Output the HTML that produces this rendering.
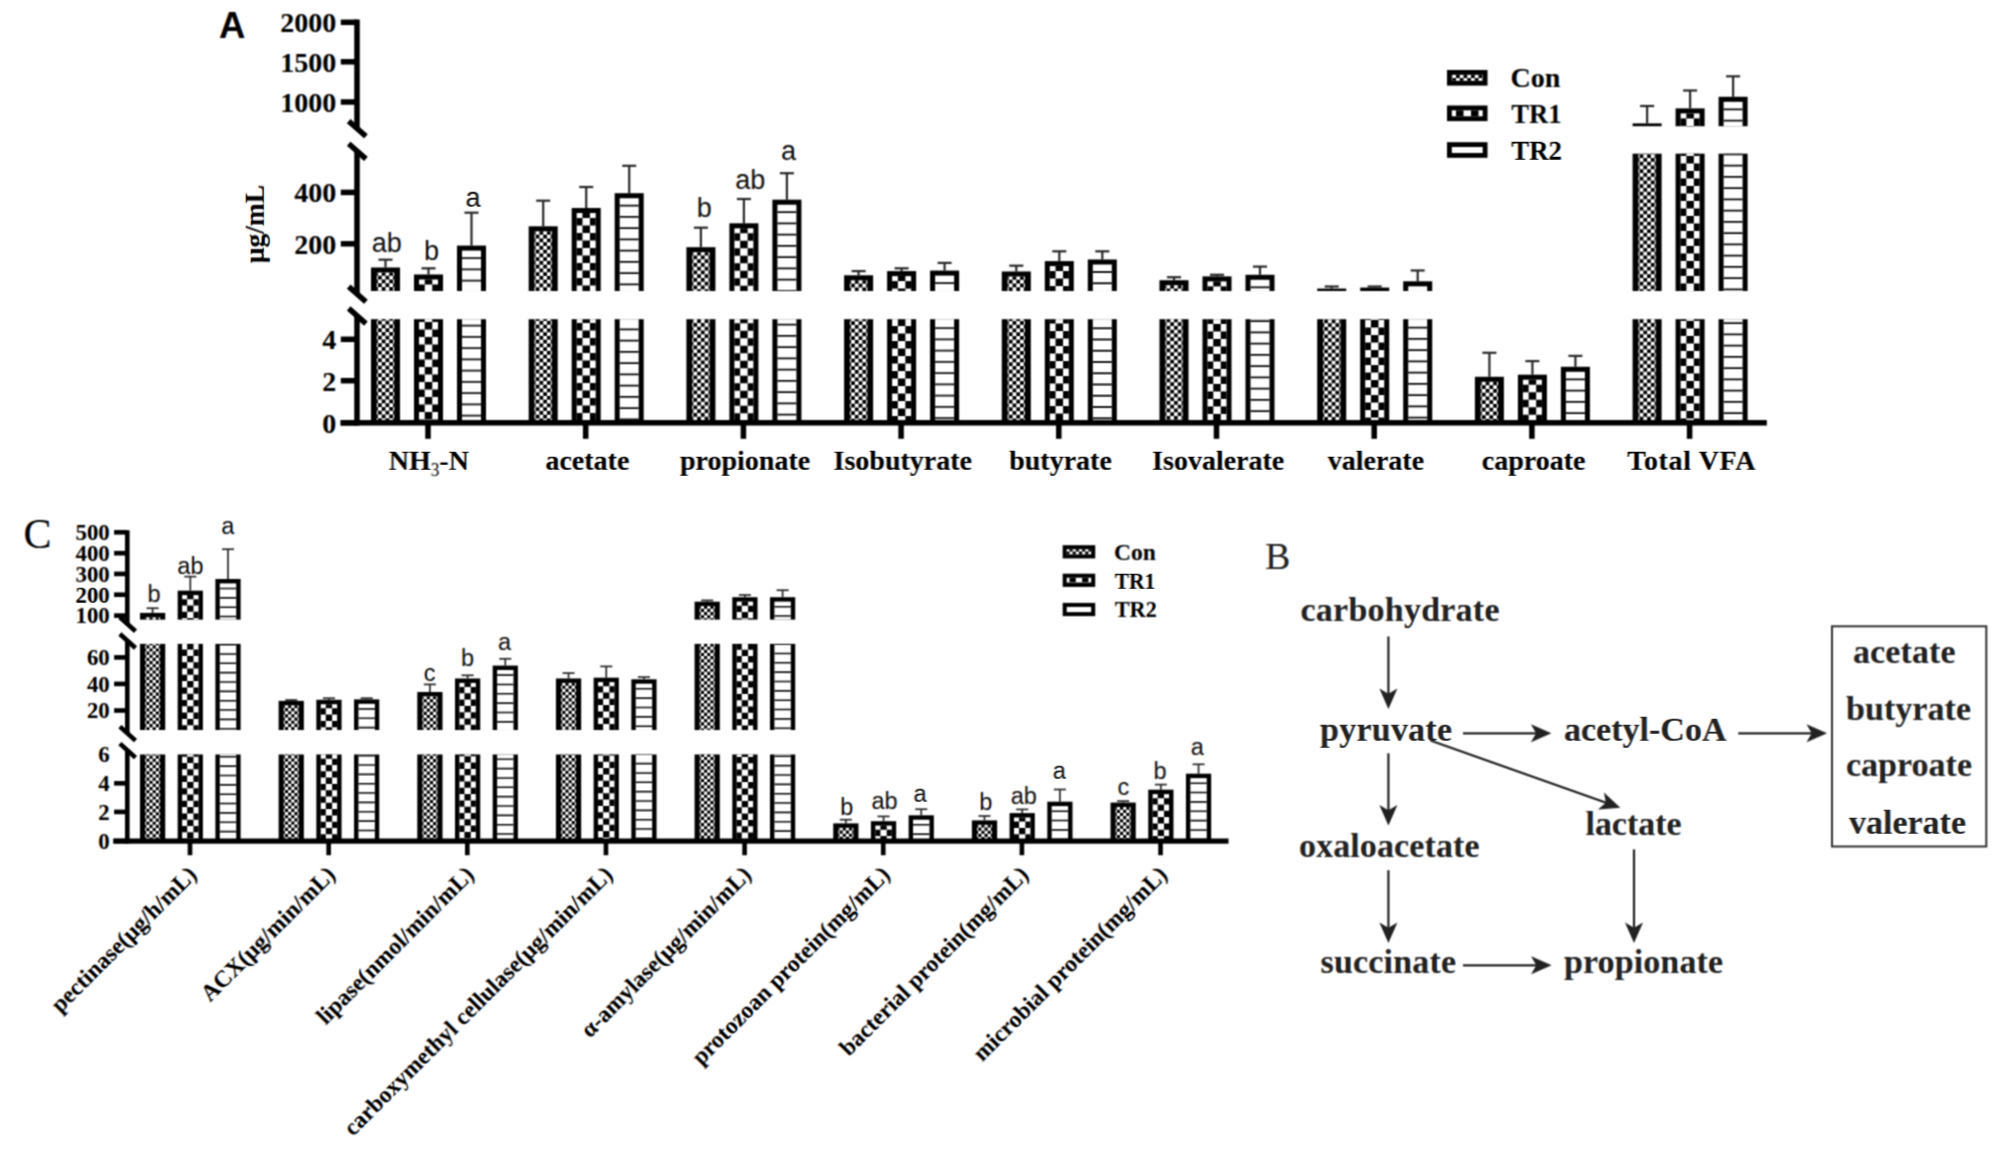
<!DOCTYPE html>
<html lang="en"><head><meta charset="utf-8"><title>Figure</title>
<style>html,body{margin:0;padding:0;background:#fff}svg{display:block}</style></head><body>
<svg width="2008" height="1151" viewBox="0 0 2008 1151">
<g id="hb"><g id="all">
<rect x="-5" y="-5" width="2018" height="1161" fill="#fff"/>
<g id="panelA">
<text x="219" y="38.3" font-family='"Liberation Serif", "DejaVu Serif", serif' font-size="36.5" font-weight="bold" text-anchor="start" fill="#000" style="font-family:'Liberation Sans', 'DejaVu Sans', sans-serif">A</text>
<rect x="371" y="267.5" width="29" height="23.5" fill="#000"/>
<rect x="376.8" y="272.5" width="17.4" height="18.5" fill="#fff"/>
<line x1="377.4" y1="272.5" x2="377.4" y2="291" stroke="#000" stroke-width="1.2" stroke-dasharray="3.75 3.75" stroke-dashoffset="0.4"/>
<line x1="379.88" y1="272.5" x2="379.88" y2="291" stroke="#000" stroke-width="3.75" stroke-dasharray="3.75 3.75" stroke-dashoffset="4.15"/>
<line x1="383.62" y1="272.5" x2="383.62" y2="291" stroke="#000" stroke-width="3.75" stroke-dasharray="3.75 3.75" stroke-dashoffset="0.4"/>
<line x1="387.38" y1="272.5" x2="387.38" y2="291" stroke="#000" stroke-width="3.75" stroke-dasharray="3.75 3.75" stroke-dashoffset="4.15"/>
<line x1="391.12" y1="272.5" x2="391.12" y2="291" stroke="#000" stroke-width="3.75" stroke-dasharray="3.75 3.75" stroke-dashoffset="0.4"/>
<line x1="393.6" y1="272.5" x2="393.6" y2="291" stroke="#000" stroke-width="1.2" stroke-dasharray="3.75 3.75" stroke-dashoffset="4.15"/>
<rect x="371" y="319.2" width="29" height="101.8" fill="#000"/>
<rect x="376.8" y="319.2" width="17.4" height="101.8" fill="#fff"/>
<line x1="377.4" y1="319.2" x2="377.4" y2="421" stroke="#000" stroke-width="1.2" stroke-dasharray="3.75 3.75" stroke-dashoffset="2.1"/>
<line x1="379.88" y1="319.2" x2="379.88" y2="421" stroke="#000" stroke-width="3.75" stroke-dasharray="3.75 3.75" stroke-dashoffset="5.85"/>
<line x1="383.62" y1="319.2" x2="383.62" y2="421" stroke="#000" stroke-width="3.75" stroke-dasharray="3.75 3.75" stroke-dashoffset="2.1"/>
<line x1="387.38" y1="319.2" x2="387.38" y2="421" stroke="#000" stroke-width="3.75" stroke-dasharray="3.75 3.75" stroke-dashoffset="5.85"/>
<line x1="391.12" y1="319.2" x2="391.12" y2="421" stroke="#000" stroke-width="3.75" stroke-dasharray="3.75 3.75" stroke-dashoffset="2.1"/>
<line x1="393.6" y1="319.2" x2="393.6" y2="421" stroke="#000" stroke-width="1.2" stroke-dasharray="3.75 3.75" stroke-dashoffset="5.85"/>
<rect x="378.5" y="258.6" width="14" height="2.2" fill="#2b2b2b"/>
<rect x="384.4" y="259.7" width="2.2" height="7.8" fill="#2b2b2b"/>
<rect x="414" y="274.5" width="29" height="16.5" fill="#000"/>
<rect x="419" y="279.5" width="19" height="11.5" fill="#fff"/>
<line x1="421.88" y1="279.5" x2="421.88" y2="291" stroke="#000" stroke-width="5.75" stroke-dasharray="7.5 7.5" stroke-dashoffset="10"/>
<line x1="428.5" y1="279.5" x2="428.5" y2="291" stroke="#000" stroke-width="7.5" stroke-dasharray="7.5 7.5" stroke-dashoffset="2.5"/>
<line x1="435.12" y1="279.5" x2="435.12" y2="291" stroke="#000" stroke-width="5.75" stroke-dasharray="7.5 7.5" stroke-dashoffset="10"/>
<rect x="414" y="319.2" width="29" height="101.8" fill="#000"/>
<rect x="419" y="319.2" width="19" height="101.8" fill="#fff"/>
<line x1="421.88" y1="319.2" x2="421.88" y2="421" stroke="#000" stroke-width="5.75" stroke-dasharray="7.5 7.5" stroke-dashoffset="4.7"/>
<line x1="428.5" y1="319.2" x2="428.5" y2="421" stroke="#000" stroke-width="7.5" stroke-dasharray="7.5 7.5" stroke-dashoffset="12.2"/>
<line x1="435.12" y1="319.2" x2="435.12" y2="421" stroke="#000" stroke-width="5.75" stroke-dasharray="7.5 7.5" stroke-dashoffset="4.7"/>
<rect x="421.5" y="267.2" width="14" height="2.2" fill="#2b2b2b"/>
<rect x="427.4" y="268.3" width="2.2" height="6.2" fill="#2b2b2b"/>
<rect x="457" y="245.6" width="29" height="45.4" fill="#000"/>
<rect x="462" y="250.6" width="19" height="40.4" fill="#fff"/>
<line x1="471.5" y1="250.6" x2="471.5" y2="291" stroke="#111" stroke-width="19" stroke-dasharray="1.8 9.45" stroke-dashoffset="4.65"/>
<rect x="457" y="319.2" width="29" height="101.8" fill="#000"/>
<rect x="462" y="319.2" width="19" height="101.8" fill="#fff"/>
<line x1="471.5" y1="319.2" x2="471.5" y2="421" stroke="#111" stroke-width="19" stroke-dasharray="1.8 9.45" stroke-dashoffset="5.75"/>
<rect x="464.5" y="211.6" width="14" height="2.2" fill="#2b2b2b"/>
<rect x="470.4" y="212.7" width="2.2" height="32.9" fill="#2b2b2b"/>
<rect x="528.7" y="226.3" width="29" height="64.7" fill="#000"/>
<rect x="534.5" y="231.3" width="17.4" height="59.7" fill="#fff"/>
<line x1="535.1" y1="231.3" x2="535.1" y2="291" stroke="#000" stroke-width="1.2" stroke-dasharray="3.75 3.75" stroke-dashoffset="0.4"/>
<line x1="537.58" y1="231.3" x2="537.58" y2="291" stroke="#000" stroke-width="3.75" stroke-dasharray="3.75 3.75" stroke-dashoffset="4.15"/>
<line x1="541.33" y1="231.3" x2="541.33" y2="291" stroke="#000" stroke-width="3.75" stroke-dasharray="3.75 3.75" stroke-dashoffset="0.4"/>
<line x1="545.08" y1="231.3" x2="545.08" y2="291" stroke="#000" stroke-width="3.75" stroke-dasharray="3.75 3.75" stroke-dashoffset="4.15"/>
<line x1="548.83" y1="231.3" x2="548.83" y2="291" stroke="#000" stroke-width="3.75" stroke-dasharray="3.75 3.75" stroke-dashoffset="0.4"/>
<line x1="551.3" y1="231.3" x2="551.3" y2="291" stroke="#000" stroke-width="1.2" stroke-dasharray="3.75 3.75" stroke-dashoffset="4.15"/>
<rect x="528.7" y="319.2" width="29" height="101.8" fill="#000"/>
<rect x="534.5" y="319.2" width="17.4" height="101.8" fill="#fff"/>
<line x1="535.1" y1="319.2" x2="535.1" y2="421" stroke="#000" stroke-width="1.2" stroke-dasharray="3.75 3.75" stroke-dashoffset="5.8"/>
<line x1="537.58" y1="319.2" x2="537.58" y2="421" stroke="#000" stroke-width="3.75" stroke-dasharray="3.75 3.75" stroke-dashoffset="2.05"/>
<line x1="541.33" y1="319.2" x2="541.33" y2="421" stroke="#000" stroke-width="3.75" stroke-dasharray="3.75 3.75" stroke-dashoffset="5.8"/>
<line x1="545.08" y1="319.2" x2="545.08" y2="421" stroke="#000" stroke-width="3.75" stroke-dasharray="3.75 3.75" stroke-dashoffset="2.05"/>
<line x1="548.83" y1="319.2" x2="548.83" y2="421" stroke="#000" stroke-width="3.75" stroke-dasharray="3.75 3.75" stroke-dashoffset="5.8"/>
<line x1="551.3" y1="319.2" x2="551.3" y2="421" stroke="#000" stroke-width="1.2" stroke-dasharray="3.75 3.75" stroke-dashoffset="2.05"/>
<rect x="536.2" y="199.6" width="14" height="2.2" fill="#2b2b2b"/>
<rect x="542.1" y="200.7" width="2.2" height="25.6" fill="#2b2b2b"/>
<rect x="571.7" y="208" width="29" height="83" fill="#000"/>
<rect x="576.7" y="213" width="19" height="78" fill="#fff"/>
<line x1="579.58" y1="213" x2="579.58" y2="291" stroke="#000" stroke-width="5.75" stroke-dasharray="7.5 7.5" stroke-dashoffset="10"/>
<line x1="586.2" y1="213" x2="586.2" y2="291" stroke="#000" stroke-width="7.5" stroke-dasharray="7.5 7.5" stroke-dashoffset="2.5"/>
<line x1="592.83" y1="213" x2="592.83" y2="291" stroke="#000" stroke-width="5.75" stroke-dasharray="7.5 7.5" stroke-dashoffset="10"/>
<rect x="571.7" y="319.2" width="29" height="101.8" fill="#000"/>
<rect x="576.7" y="319.2" width="19" height="101.8" fill="#fff"/>
<line x1="579.58" y1="319.2" x2="579.58" y2="421" stroke="#000" stroke-width="5.75" stroke-dasharray="7.5 7.5" stroke-dashoffset="11.2"/>
<line x1="586.2" y1="319.2" x2="586.2" y2="421" stroke="#000" stroke-width="7.5" stroke-dasharray="7.5 7.5" stroke-dashoffset="3.7"/>
<line x1="592.83" y1="319.2" x2="592.83" y2="421" stroke="#000" stroke-width="5.75" stroke-dasharray="7.5 7.5" stroke-dashoffset="11.2"/>
<rect x="579.2" y="185.9" width="14" height="2.2" fill="#2b2b2b"/>
<rect x="585.1" y="187" width="2.2" height="21" fill="#2b2b2b"/>
<rect x="614.7" y="193.2" width="29" height="97.8" fill="#000"/>
<rect x="619.7" y="198.2" width="19" height="92.8" fill="#fff"/>
<line x1="629.2" y1="198.2" x2="629.2" y2="291" stroke="#111" stroke-width="19" stroke-dasharray="1.8 9.45" stroke-dashoffset="4.65"/>
<rect x="614.7" y="319.2" width="29" height="101.8" fill="#000"/>
<rect x="619.7" y="319.2" width="19" height="101.8" fill="#fff"/>
<line x1="629.2" y1="319.2" x2="629.2" y2="421" stroke="#111" stroke-width="19" stroke-dasharray="1.8 9.45" stroke-dashoffset="1.9"/>
<rect x="622.2" y="164.7" width="14" height="2.2" fill="#2b2b2b"/>
<rect x="628.1" y="165.8" width="2.2" height="27.4" fill="#2b2b2b"/>
<rect x="686.4" y="247.2" width="29" height="43.8" fill="#000"/>
<rect x="692.2" y="252.2" width="17.4" height="38.8" fill="#fff"/>
<line x1="692.8" y1="252.2" x2="692.8" y2="291" stroke="#000" stroke-width="1.2" stroke-dasharray="3.75 3.75" stroke-dashoffset="0.4"/>
<line x1="695.27" y1="252.2" x2="695.27" y2="291" stroke="#000" stroke-width="3.75" stroke-dasharray="3.75 3.75" stroke-dashoffset="4.15"/>
<line x1="699.02" y1="252.2" x2="699.02" y2="291" stroke="#000" stroke-width="3.75" stroke-dasharray="3.75 3.75" stroke-dashoffset="0.4"/>
<line x1="702.77" y1="252.2" x2="702.77" y2="291" stroke="#000" stroke-width="3.75" stroke-dasharray="3.75 3.75" stroke-dashoffset="4.15"/>
<line x1="706.52" y1="252.2" x2="706.52" y2="291" stroke="#000" stroke-width="3.75" stroke-dasharray="3.75 3.75" stroke-dashoffset="0.4"/>
<line x1="709" y1="252.2" x2="709" y2="291" stroke="#000" stroke-width="1.2" stroke-dasharray="3.75 3.75" stroke-dashoffset="4.15"/>
<rect x="686.4" y="319.2" width="29" height="101.8" fill="#000"/>
<rect x="692.2" y="319.2" width="17.4" height="101.8" fill="#fff"/>
<line x1="692.8" y1="319.2" x2="692.8" y2="421" stroke="#000" stroke-width="1.2" stroke-dasharray="3.75 3.75" stroke-dashoffset="7.4"/>
<line x1="695.27" y1="319.2" x2="695.27" y2="421" stroke="#000" stroke-width="3.75" stroke-dasharray="3.75 3.75" stroke-dashoffset="3.65"/>
<line x1="699.02" y1="319.2" x2="699.02" y2="421" stroke="#000" stroke-width="3.75" stroke-dasharray="3.75 3.75" stroke-dashoffset="7.4"/>
<line x1="702.77" y1="319.2" x2="702.77" y2="421" stroke="#000" stroke-width="3.75" stroke-dasharray="3.75 3.75" stroke-dashoffset="3.65"/>
<line x1="706.52" y1="319.2" x2="706.52" y2="421" stroke="#000" stroke-width="3.75" stroke-dasharray="3.75 3.75" stroke-dashoffset="7.4"/>
<line x1="709" y1="319.2" x2="709" y2="421" stroke="#000" stroke-width="1.2" stroke-dasharray="3.75 3.75" stroke-dashoffset="3.65"/>
<rect x="693.9" y="226.6" width="14" height="2.2" fill="#2b2b2b"/>
<rect x="699.8" y="227.7" width="2.2" height="19.5" fill="#2b2b2b"/>
<rect x="729.4" y="223.3" width="29" height="67.7" fill="#000"/>
<rect x="734.4" y="228.3" width="19" height="62.7" fill="#fff"/>
<line x1="737.27" y1="228.3" x2="737.27" y2="291" stroke="#000" stroke-width="5.75" stroke-dasharray="7.5 7.5" stroke-dashoffset="10"/>
<line x1="743.9" y1="228.3" x2="743.9" y2="291" stroke="#000" stroke-width="7.5" stroke-dasharray="7.5 7.5" stroke-dashoffset="2.5"/>
<line x1="750.52" y1="228.3" x2="750.52" y2="291" stroke="#000" stroke-width="5.75" stroke-dasharray="7.5 7.5" stroke-dashoffset="10"/>
<rect x="729.4" y="319.2" width="29" height="101.8" fill="#000"/>
<rect x="734.4" y="319.2" width="19" height="101.8" fill="#fff"/>
<line x1="737.27" y1="319.2" x2="737.27" y2="421" stroke="#000" stroke-width="5.75" stroke-dasharray="7.5 7.5" stroke-dashoffset="10.9"/>
<line x1="743.9" y1="319.2" x2="743.9" y2="421" stroke="#000" stroke-width="7.5" stroke-dasharray="7.5 7.5" stroke-dashoffset="3.4"/>
<line x1="750.52" y1="319.2" x2="750.52" y2="421" stroke="#000" stroke-width="5.75" stroke-dasharray="7.5 7.5" stroke-dashoffset="10.9"/>
<rect x="736.9" y="197.9" width="14" height="2.2" fill="#2b2b2b"/>
<rect x="742.8" y="199" width="2.2" height="24.3" fill="#2b2b2b"/>
<rect x="772.4" y="199.7" width="29" height="91.3" fill="#000"/>
<rect x="777.4" y="204.7" width="19" height="86.3" fill="#fff"/>
<line x1="786.9" y1="204.7" x2="786.9" y2="291" stroke="#111" stroke-width="19" stroke-dasharray="1.8 9.45" stroke-dashoffset="4.65"/>
<rect x="772.4" y="319.2" width="29" height="101.8" fill="#000"/>
<rect x="777.4" y="319.2" width="19" height="101.8" fill="#fff"/>
<line x1="786.9" y1="319.2" x2="786.9" y2="421" stroke="#111" stroke-width="19" stroke-dasharray="1.8 9.45" stroke-dashoffset="6.65"/>
<rect x="779.9" y="172.1" width="14" height="2.2" fill="#2b2b2b"/>
<rect x="785.8" y="173.2" width="2.2" height="26.5" fill="#2b2b2b"/>
<rect x="844.1" y="275.3" width="29" height="15.7" fill="#000"/>
<rect x="849.9" y="280.3" width="17.4" height="10.7" fill="#fff"/>
<line x1="850.5" y1="280.3" x2="850.5" y2="291" stroke="#000" stroke-width="1.2" stroke-dasharray="3.75 3.75" stroke-dashoffset="0.4"/>
<line x1="852.97" y1="280.3" x2="852.97" y2="291" stroke="#000" stroke-width="3.75" stroke-dasharray="3.75 3.75" stroke-dashoffset="4.15"/>
<line x1="856.72" y1="280.3" x2="856.72" y2="291" stroke="#000" stroke-width="3.75" stroke-dasharray="3.75 3.75" stroke-dashoffset="0.4"/>
<line x1="860.47" y1="280.3" x2="860.47" y2="291" stroke="#000" stroke-width="3.75" stroke-dasharray="3.75 3.75" stroke-dashoffset="4.15"/>
<line x1="864.22" y1="280.3" x2="864.22" y2="291" stroke="#000" stroke-width="3.75" stroke-dasharray="3.75 3.75" stroke-dashoffset="0.4"/>
<line x1="866.7" y1="280.3" x2="866.7" y2="291" stroke="#000" stroke-width="1.2" stroke-dasharray="3.75 3.75" stroke-dashoffset="4.15"/>
<rect x="844.1" y="319.2" width="29" height="101.8" fill="#000"/>
<rect x="849.9" y="319.2" width="17.4" height="101.8" fill="#fff"/>
<line x1="850.5" y1="319.2" x2="850.5" y2="421" stroke="#000" stroke-width="1.2" stroke-dasharray="3.75 3.75" stroke-dashoffset="1.8"/>
<line x1="852.97" y1="319.2" x2="852.97" y2="421" stroke="#000" stroke-width="3.75" stroke-dasharray="3.75 3.75" stroke-dashoffset="5.55"/>
<line x1="856.72" y1="319.2" x2="856.72" y2="421" stroke="#000" stroke-width="3.75" stroke-dasharray="3.75 3.75" stroke-dashoffset="1.8"/>
<line x1="860.47" y1="319.2" x2="860.47" y2="421" stroke="#000" stroke-width="3.75" stroke-dasharray="3.75 3.75" stroke-dashoffset="5.55"/>
<line x1="864.22" y1="319.2" x2="864.22" y2="421" stroke="#000" stroke-width="3.75" stroke-dasharray="3.75 3.75" stroke-dashoffset="1.8"/>
<line x1="866.7" y1="319.2" x2="866.7" y2="421" stroke="#000" stroke-width="1.2" stroke-dasharray="3.75 3.75" stroke-dashoffset="5.55"/>
<rect x="851.6" y="270" width="14" height="2.2" fill="#2b2b2b"/>
<rect x="857.5" y="271.1" width="2.2" height="4.2" fill="#2b2b2b"/>
<rect x="887.1" y="271.1" width="29" height="19.9" fill="#000"/>
<rect x="892.1" y="276.1" width="19" height="14.9" fill="#fff"/>
<line x1="894.97" y1="276.1" x2="894.97" y2="291" stroke="#000" stroke-width="5.75" stroke-dasharray="7.5 7.5" stroke-dashoffset="10"/>
<line x1="901.6" y1="276.1" x2="901.6" y2="291" stroke="#000" stroke-width="7.5" stroke-dasharray="7.5 7.5" stroke-dashoffset="2.5"/>
<line x1="908.22" y1="276.1" x2="908.22" y2="291" stroke="#000" stroke-width="5.75" stroke-dasharray="7.5 7.5" stroke-dashoffset="10"/>
<rect x="887.1" y="319.2" width="29" height="101.8" fill="#000"/>
<rect x="892.1" y="319.2" width="19" height="101.8" fill="#fff"/>
<line x1="894.97" y1="319.2" x2="894.97" y2="421" stroke="#000" stroke-width="5.75" stroke-dasharray="7.5 7.5" stroke-dashoffset="8.1"/>
<line x1="901.6" y1="319.2" x2="901.6" y2="421" stroke="#000" stroke-width="7.5" stroke-dasharray="7.5 7.5" stroke-dashoffset="0.6"/>
<line x1="908.22" y1="319.2" x2="908.22" y2="421" stroke="#000" stroke-width="5.75" stroke-dasharray="7.5 7.5" stroke-dashoffset="8.1"/>
<rect x="894.6" y="267.2" width="14" height="2.2" fill="#2b2b2b"/>
<rect x="900.5" y="268.3" width="2.2" height="2.8" fill="#2b2b2b"/>
<rect x="930.1" y="270.6" width="29" height="20.4" fill="#000"/>
<rect x="935.1" y="275.6" width="19" height="15.4" fill="#fff"/>
<line x1="944.6" y1="275.6" x2="944.6" y2="291" stroke="#111" stroke-width="19" stroke-dasharray="1.8 9.45" stroke-dashoffset="4.65"/>
<rect x="930.1" y="319.2" width="29" height="101.8" fill="#000"/>
<rect x="935.1" y="319.2" width="19" height="101.8" fill="#fff"/>
<line x1="944.6" y1="319.2" x2="944.6" y2="421" stroke="#111" stroke-width="19" stroke-dasharray="1.8 9.45" stroke-dashoffset="3.25"/>
<rect x="937.6" y="261.8" width="14" height="2.2" fill="#2b2b2b"/>
<rect x="943.5" y="262.9" width="2.2" height="7.7" fill="#2b2b2b"/>
<rect x="1001.8" y="271.5" width="29" height="19.5" fill="#000"/>
<rect x="1007.6" y="276.5" width="17.4" height="14.5" fill="#fff"/>
<line x1="1008.2" y1="276.5" x2="1008.2" y2="291" stroke="#000" stroke-width="1.2" stroke-dasharray="3.75 3.75" stroke-dashoffset="0.4"/>
<line x1="1010.67" y1="276.5" x2="1010.67" y2="291" stroke="#000" stroke-width="3.75" stroke-dasharray="3.75 3.75" stroke-dashoffset="4.15"/>
<line x1="1014.42" y1="276.5" x2="1014.42" y2="291" stroke="#000" stroke-width="3.75" stroke-dasharray="3.75 3.75" stroke-dashoffset="0.4"/>
<line x1="1018.17" y1="276.5" x2="1018.17" y2="291" stroke="#000" stroke-width="3.75" stroke-dasharray="3.75 3.75" stroke-dashoffset="4.15"/>
<line x1="1021.92" y1="276.5" x2="1021.92" y2="291" stroke="#000" stroke-width="3.75" stroke-dasharray="3.75 3.75" stroke-dashoffset="0.4"/>
<line x1="1024.4" y1="276.5" x2="1024.4" y2="291" stroke="#000" stroke-width="1.2" stroke-dasharray="3.75 3.75" stroke-dashoffset="4.15"/>
<rect x="1001.8" y="319.2" width="29" height="101.8" fill="#000"/>
<rect x="1007.6" y="319.2" width="17.4" height="101.8" fill="#fff"/>
<line x1="1008.2" y1="319.2" x2="1008.2" y2="421" stroke="#000" stroke-width="1.2" stroke-dasharray="3.75 3.75" stroke-dashoffset="5.6"/>
<line x1="1010.67" y1="319.2" x2="1010.67" y2="421" stroke="#000" stroke-width="3.75" stroke-dasharray="3.75 3.75" stroke-dashoffset="1.85"/>
<line x1="1014.42" y1="319.2" x2="1014.42" y2="421" stroke="#000" stroke-width="3.75" stroke-dasharray="3.75 3.75" stroke-dashoffset="5.6"/>
<line x1="1018.17" y1="319.2" x2="1018.17" y2="421" stroke="#000" stroke-width="3.75" stroke-dasharray="3.75 3.75" stroke-dashoffset="1.85"/>
<line x1="1021.92" y1="319.2" x2="1021.92" y2="421" stroke="#000" stroke-width="3.75" stroke-dasharray="3.75 3.75" stroke-dashoffset="5.6"/>
<line x1="1024.4" y1="319.2" x2="1024.4" y2="421" stroke="#000" stroke-width="1.2" stroke-dasharray="3.75 3.75" stroke-dashoffset="1.85"/>
<rect x="1009.3" y="264.6" width="14" height="2.2" fill="#2b2b2b"/>
<rect x="1015.2" y="265.7" width="2.2" height="5.8" fill="#2b2b2b"/>
<rect x="1044.8" y="261.1" width="29" height="29.9" fill="#000"/>
<rect x="1049.8" y="266.1" width="19" height="24.9" fill="#fff"/>
<line x1="1052.67" y1="266.1" x2="1052.67" y2="291" stroke="#000" stroke-width="5.75" stroke-dasharray="7.5 7.5" stroke-dashoffset="10"/>
<line x1="1059.3" y1="266.1" x2="1059.3" y2="291" stroke="#000" stroke-width="7.5" stroke-dasharray="7.5 7.5" stroke-dashoffset="2.5"/>
<line x1="1065.92" y1="266.1" x2="1065.92" y2="291" stroke="#000" stroke-width="5.75" stroke-dasharray="7.5 7.5" stroke-dashoffset="10"/>
<rect x="1044.8" y="319.2" width="29" height="101.8" fill="#000"/>
<rect x="1049.8" y="319.2" width="19" height="101.8" fill="#fff"/>
<line x1="1052.67" y1="319.2" x2="1052.67" y2="421" stroke="#000" stroke-width="5.75" stroke-dasharray="7.5 7.5" stroke-dashoffset="3.1"/>
<line x1="1059.3" y1="319.2" x2="1059.3" y2="421" stroke="#000" stroke-width="7.5" stroke-dasharray="7.5 7.5" stroke-dashoffset="10.6"/>
<line x1="1065.92" y1="319.2" x2="1065.92" y2="421" stroke="#000" stroke-width="5.75" stroke-dasharray="7.5 7.5" stroke-dashoffset="3.1"/>
<rect x="1052.3" y="250.2" width="14" height="2.2" fill="#2b2b2b"/>
<rect x="1058.2" y="251.3" width="2.2" height="9.8" fill="#2b2b2b"/>
<rect x="1087.8" y="259.5" width="29" height="31.5" fill="#000"/>
<rect x="1092.8" y="264.5" width="19" height="26.5" fill="#fff"/>
<line x1="1102.3" y1="264.5" x2="1102.3" y2="291" stroke="#111" stroke-width="19" stroke-dasharray="1.8 9.45" stroke-dashoffset="4.65"/>
<rect x="1087.8" y="319.2" width="29" height="101.8" fill="#000"/>
<rect x="1092.8" y="319.2" width="19" height="101.8" fill="#fff"/>
<line x1="1102.3" y1="319.2" x2="1102.3" y2="421" stroke="#111" stroke-width="19" stroke-dasharray="1.8 9.45" stroke-dashoffset="3.1"/>
<rect x="1095.3" y="250.2" width="14" height="2.2" fill="#2b2b2b"/>
<rect x="1101.2" y="251.3" width="2.2" height="8.2" fill="#2b2b2b"/>
<rect x="1159.5" y="280.2" width="29" height="10.8" fill="#000"/>
<rect x="1165.3" y="285.2" width="17.4" height="5.8" fill="#fff"/>
<line x1="1165.9" y1="285.2" x2="1165.9" y2="291" stroke="#000" stroke-width="1.2" stroke-dasharray="3.75 3.75" stroke-dashoffset="0.4"/>
<line x1="1168.38" y1="285.2" x2="1168.38" y2="291" stroke="#000" stroke-width="3.75" stroke-dasharray="3.75 3.75" stroke-dashoffset="4.15"/>
<line x1="1172.12" y1="285.2" x2="1172.12" y2="291" stroke="#000" stroke-width="3.75" stroke-dasharray="3.75 3.75" stroke-dashoffset="0.4"/>
<line x1="1175.88" y1="285.2" x2="1175.88" y2="291" stroke="#000" stroke-width="3.75" stroke-dasharray="3.75 3.75" stroke-dashoffset="4.15"/>
<line x1="1179.62" y1="285.2" x2="1179.62" y2="291" stroke="#000" stroke-width="3.75" stroke-dasharray="3.75 3.75" stroke-dashoffset="0.4"/>
<line x1="1182.1" y1="285.2" x2="1182.1" y2="291" stroke="#000" stroke-width="1.2" stroke-dasharray="3.75 3.75" stroke-dashoffset="4.15"/>
<rect x="1159.5" y="319.2" width="29" height="101.8" fill="#000"/>
<rect x="1165.3" y="319.2" width="17.4" height="101.8" fill="#fff"/>
<line x1="1165.9" y1="319.2" x2="1165.9" y2="421" stroke="#000" stroke-width="1.2" stroke-dasharray="3.75 3.75" stroke-dashoffset="4.4"/>
<line x1="1168.38" y1="319.2" x2="1168.38" y2="421" stroke="#000" stroke-width="3.75" stroke-dasharray="3.75 3.75" stroke-dashoffset="0.65"/>
<line x1="1172.12" y1="319.2" x2="1172.12" y2="421" stroke="#000" stroke-width="3.75" stroke-dasharray="3.75 3.75" stroke-dashoffset="4.4"/>
<line x1="1175.88" y1="319.2" x2="1175.88" y2="421" stroke="#000" stroke-width="3.75" stroke-dasharray="3.75 3.75" stroke-dashoffset="0.65"/>
<line x1="1179.62" y1="319.2" x2="1179.62" y2="421" stroke="#000" stroke-width="3.75" stroke-dasharray="3.75 3.75" stroke-dashoffset="4.4"/>
<line x1="1182.1" y1="319.2" x2="1182.1" y2="421" stroke="#000" stroke-width="1.2" stroke-dasharray="3.75 3.75" stroke-dashoffset="0.65"/>
<rect x="1167" y="276.1" width="14" height="2.2" fill="#2b2b2b"/>
<rect x="1172.9" y="277.2" width="2.2" height="3" fill="#2b2b2b"/>
<rect x="1202.5" y="276.4" width="29" height="14.6" fill="#000"/>
<rect x="1207.5" y="281.4" width="19" height="9.6" fill="#fff"/>
<line x1="1210.38" y1="281.4" x2="1210.38" y2="291" stroke="#000" stroke-width="5.75" stroke-dasharray="7.5 7.5" stroke-dashoffset="10"/>
<line x1="1217" y1="281.4" x2="1217" y2="291" stroke="#000" stroke-width="7.5" stroke-dasharray="7.5 7.5" stroke-dashoffset="2.5"/>
<line x1="1223.62" y1="281.4" x2="1223.62" y2="291" stroke="#000" stroke-width="5.75" stroke-dasharray="7.5 7.5" stroke-dashoffset="10"/>
<rect x="1202.5" y="319.2" width="29" height="101.8" fill="#000"/>
<rect x="1207.5" y="319.2" width="19" height="101.8" fill="#fff"/>
<line x1="1210.38" y1="319.2" x2="1210.38" y2="421" stroke="#000" stroke-width="5.75" stroke-dasharray="7.5 7.5" stroke-dashoffset="2.8"/>
<line x1="1217" y1="319.2" x2="1217" y2="421" stroke="#000" stroke-width="7.5" stroke-dasharray="7.5 7.5" stroke-dashoffset="10.3"/>
<line x1="1223.62" y1="319.2" x2="1223.62" y2="421" stroke="#000" stroke-width="5.75" stroke-dasharray="7.5 7.5" stroke-dashoffset="2.8"/>
<rect x="1210" y="273.7" width="14" height="2.2" fill="#2b2b2b"/>
<rect x="1215.9" y="274.8" width="2.2" height="1.6" fill="#2b2b2b"/>
<rect x="1245.5" y="274.8" width="29" height="16.2" fill="#000"/>
<rect x="1250.5" y="279.8" width="19" height="11.2" fill="#fff"/>
<line x1="1260" y1="279.8" x2="1260" y2="291" stroke="#111" stroke-width="19" stroke-dasharray="1.8 9.45" stroke-dashoffset="4.65"/>
<rect x="1245.5" y="319.2" width="29" height="101.8" fill="#000"/>
<rect x="1250.5" y="319.2" width="19" height="101.8" fill="#fff"/>
<line x1="1260" y1="319.2" x2="1260" y2="421" stroke="#111" stroke-width="19" stroke-dasharray="1.8 9.45" stroke-dashoffset="10.3"/>
<rect x="1253" y="265.5" width="14" height="2.2" fill="#2b2b2b"/>
<rect x="1258.9" y="266.6" width="2.2" height="8.2" fill="#2b2b2b"/>
<rect x="1317.2" y="288.6" width="29" height="2.4" fill="#000"/>
<rect x="1317.2" y="319.2" width="29" height="101.8" fill="#000"/>
<rect x="1323" y="319.2" width="17.4" height="101.8" fill="#fff"/>
<line x1="1323.6" y1="319.2" x2="1323.6" y2="421" stroke="#000" stroke-width="1.2" stroke-dasharray="3.75 3.75" stroke-dashoffset="3.5"/>
<line x1="1326.07" y1="319.2" x2="1326.07" y2="421" stroke="#000" stroke-width="3.75" stroke-dasharray="3.75 3.75" stroke-dashoffset="7.25"/>
<line x1="1329.82" y1="319.2" x2="1329.82" y2="421" stroke="#000" stroke-width="3.75" stroke-dasharray="3.75 3.75" stroke-dashoffset="3.5"/>
<line x1="1333.57" y1="319.2" x2="1333.57" y2="421" stroke="#000" stroke-width="3.75" stroke-dasharray="3.75 3.75" stroke-dashoffset="7.25"/>
<line x1="1337.32" y1="319.2" x2="1337.32" y2="421" stroke="#000" stroke-width="3.75" stroke-dasharray="3.75 3.75" stroke-dashoffset="3.5"/>
<line x1="1339.8" y1="319.2" x2="1339.8" y2="421" stroke="#000" stroke-width="1.2" stroke-dasharray="3.75 3.75" stroke-dashoffset="7.25"/>
<rect x="1324.7" y="285.4" width="14" height="2.2" fill="#2b2b2b"/>
<rect x="1330.6" y="286.5" width="2.2" height="2.1" fill="#2b2b2b"/>
<rect x="1360.2" y="287.6" width="29" height="3.4" fill="#000"/>
<rect x="1360.2" y="319.2" width="29" height="101.8" fill="#000"/>
<rect x="1365.2" y="319.2" width="19" height="101.8" fill="#fff"/>
<line x1="1368.07" y1="319.2" x2="1368.07" y2="421" stroke="#000" stroke-width="5.75" stroke-dasharray="7.5 7.5" stroke-dashoffset="6.6"/>
<line x1="1374.7" y1="319.2" x2="1374.7" y2="421" stroke="#000" stroke-width="7.5" stroke-dasharray="7.5 7.5" stroke-dashoffset="14.1"/>
<line x1="1381.32" y1="319.2" x2="1381.32" y2="421" stroke="#000" stroke-width="5.75" stroke-dasharray="7.5 7.5" stroke-dashoffset="6.6"/>
<rect x="1367.7" y="285.4" width="14" height="2.2" fill="#2b2b2b"/>
<rect x="1373.6" y="286.5" width="2.2" height="1.1" fill="#2b2b2b"/>
<rect x="1403.2" y="281.3" width="29" height="9.7" fill="#000"/>
<rect x="1408.2" y="286.3" width="19" height="4.7" fill="#fff"/>
<line x1="1417.7" y1="286.3" x2="1417.7" y2="291" stroke="#111" stroke-width="19" stroke-dasharray="1.8 9.45" stroke-dashoffset="4.65"/>
<rect x="1403.2" y="319.2" width="29" height="101.8" fill="#000"/>
<rect x="1408.2" y="319.2" width="19" height="101.8" fill="#fff"/>
<line x1="1417.7" y1="319.2" x2="1417.7" y2="421" stroke="#111" stroke-width="19" stroke-dasharray="1.8 9.45" stroke-dashoffset="3.8"/>
<rect x="1410.7" y="269.4" width="14" height="2.2" fill="#2b2b2b"/>
<rect x="1416.6" y="270.5" width="2.2" height="10.8" fill="#2b2b2b"/>
<rect x="1474.9" y="376.8" width="29" height="44.2" fill="#000"/>
<rect x="1480.7" y="381.8" width="17.4" height="39.2" fill="#fff"/>
<line x1="1481.3" y1="381.8" x2="1481.3" y2="421" stroke="#000" stroke-width="1.2" stroke-dasharray="3.75 3.75" stroke-dashoffset="0.4"/>
<line x1="1483.77" y1="381.8" x2="1483.77" y2="421" stroke="#000" stroke-width="3.75" stroke-dasharray="3.75 3.75" stroke-dashoffset="4.15"/>
<line x1="1487.52" y1="381.8" x2="1487.52" y2="421" stroke="#000" stroke-width="3.75" stroke-dasharray="3.75 3.75" stroke-dashoffset="0.4"/>
<line x1="1491.27" y1="381.8" x2="1491.27" y2="421" stroke="#000" stroke-width="3.75" stroke-dasharray="3.75 3.75" stroke-dashoffset="4.15"/>
<line x1="1495.02" y1="381.8" x2="1495.02" y2="421" stroke="#000" stroke-width="3.75" stroke-dasharray="3.75 3.75" stroke-dashoffset="0.4"/>
<line x1="1497.5" y1="381.8" x2="1497.5" y2="421" stroke="#000" stroke-width="1.2" stroke-dasharray="3.75 3.75" stroke-dashoffset="4.15"/>
<rect x="1482.4" y="351.7" width="14" height="2.2" fill="#2b2b2b"/>
<rect x="1488.3" y="352.8" width="2.2" height="24" fill="#2b2b2b"/>
<rect x="1517.9" y="374.7" width="29" height="46.3" fill="#000"/>
<rect x="1522.9" y="379.7" width="19" height="41.3" fill="#fff"/>
<line x1="1525.77" y1="379.7" x2="1525.77" y2="421" stroke="#000" stroke-width="5.75" stroke-dasharray="7.5 7.5" stroke-dashoffset="10"/>
<line x1="1532.4" y1="379.7" x2="1532.4" y2="421" stroke="#000" stroke-width="7.5" stroke-dasharray="7.5 7.5" stroke-dashoffset="2.5"/>
<line x1="1539.02" y1="379.7" x2="1539.02" y2="421" stroke="#000" stroke-width="5.75" stroke-dasharray="7.5 7.5" stroke-dashoffset="10"/>
<rect x="1525.4" y="360" width="14" height="2.2" fill="#2b2b2b"/>
<rect x="1531.3" y="361.1" width="2.2" height="13.6" fill="#2b2b2b"/>
<rect x="1560.9" y="366.8" width="29" height="54.2" fill="#000"/>
<rect x="1565.9" y="371.8" width="19" height="49.2" fill="#fff"/>
<line x1="1575.4" y1="371.8" x2="1575.4" y2="421" stroke="#111" stroke-width="19" stroke-dasharray="1.8 9.45" stroke-dashoffset="4.65"/>
<rect x="1568.4" y="354.8" width="14" height="2.2" fill="#2b2b2b"/>
<rect x="1574.3" y="355.9" width="2.2" height="10.9" fill="#2b2b2b"/>
<rect x="1632.6" y="123.4" width="29" height="2.8" fill="#000"/>
<rect x="1632.6" y="153.7" width="29" height="137.3" fill="#000"/>
<rect x="1638.4" y="153.7" width="17.4" height="137.3" fill="#fff"/>
<line x1="1639" y1="153.7" x2="1639" y2="291" stroke="#000" stroke-width="1.2" stroke-dasharray="3.75 3.75" stroke-dashoffset="3.2"/>
<line x1="1641.47" y1="153.7" x2="1641.47" y2="291" stroke="#000" stroke-width="3.75" stroke-dasharray="3.75 3.75" stroke-dashoffset="6.95"/>
<line x1="1645.22" y1="153.7" x2="1645.22" y2="291" stroke="#000" stroke-width="3.75" stroke-dasharray="3.75 3.75" stroke-dashoffset="3.2"/>
<line x1="1648.97" y1="153.7" x2="1648.97" y2="291" stroke="#000" stroke-width="3.75" stroke-dasharray="3.75 3.75" stroke-dashoffset="6.95"/>
<line x1="1652.72" y1="153.7" x2="1652.72" y2="291" stroke="#000" stroke-width="3.75" stroke-dasharray="3.75 3.75" stroke-dashoffset="3.2"/>
<line x1="1655.2" y1="153.7" x2="1655.2" y2="291" stroke="#000" stroke-width="1.2" stroke-dasharray="3.75 3.75" stroke-dashoffset="6.95"/>
<rect x="1632.6" y="319.2" width="29" height="101.8" fill="#000"/>
<rect x="1638.4" y="319.2" width="17.4" height="101.8" fill="#fff"/>
<line x1="1639" y1="319.2" x2="1639" y2="421" stroke="#000" stroke-width="1.2" stroke-dasharray="3.75 3.75" stroke-dashoffset="3.7"/>
<line x1="1641.47" y1="319.2" x2="1641.47" y2="421" stroke="#000" stroke-width="3.75" stroke-dasharray="3.75 3.75" stroke-dashoffset="7.45"/>
<line x1="1645.22" y1="319.2" x2="1645.22" y2="421" stroke="#000" stroke-width="3.75" stroke-dasharray="3.75 3.75" stroke-dashoffset="3.7"/>
<line x1="1648.97" y1="319.2" x2="1648.97" y2="421" stroke="#000" stroke-width="3.75" stroke-dasharray="3.75 3.75" stroke-dashoffset="7.45"/>
<line x1="1652.72" y1="319.2" x2="1652.72" y2="421" stroke="#000" stroke-width="3.75" stroke-dasharray="3.75 3.75" stroke-dashoffset="3.7"/>
<line x1="1655.2" y1="319.2" x2="1655.2" y2="421" stroke="#000" stroke-width="1.2" stroke-dasharray="3.75 3.75" stroke-dashoffset="7.45"/>
<rect x="1640.1" y="104.9" width="14" height="2.2" fill="#2b2b2b"/>
<rect x="1646" y="106" width="2.2" height="17.4" fill="#2b2b2b"/>
<rect x="1675.6" y="108.4" width="29" height="17.8" fill="#000"/>
<rect x="1680.6" y="113.4" width="19" height="12.8" fill="#fff"/>
<line x1="1683.47" y1="113.4" x2="1683.47" y2="126.2" stroke="#000" stroke-width="5.75" stroke-dasharray="7.5 7.5" stroke-dashoffset="10"/>
<line x1="1690.1" y1="113.4" x2="1690.1" y2="126.2" stroke="#000" stroke-width="7.5" stroke-dasharray="7.5 7.5" stroke-dashoffset="2.5"/>
<line x1="1696.72" y1="113.4" x2="1696.72" y2="126.2" stroke="#000" stroke-width="5.75" stroke-dasharray="7.5 7.5" stroke-dashoffset="10"/>
<rect x="1675.6" y="153.7" width="29" height="137.3" fill="#000"/>
<rect x="1680.6" y="153.7" width="19" height="137.3" fill="#fff"/>
<line x1="1683.47" y1="153.7" x2="1683.47" y2="291" stroke="#000" stroke-width="5.75" stroke-dasharray="7.5 7.5" stroke-dashoffset="5.3"/>
<line x1="1690.1" y1="153.7" x2="1690.1" y2="291" stroke="#000" stroke-width="7.5" stroke-dasharray="7.5 7.5" stroke-dashoffset="12.8"/>
<line x1="1696.72" y1="153.7" x2="1696.72" y2="291" stroke="#000" stroke-width="5.75" stroke-dasharray="7.5 7.5" stroke-dashoffset="5.3"/>
<rect x="1675.6" y="319.2" width="29" height="101.8" fill="#000"/>
<rect x="1680.6" y="319.2" width="19" height="101.8" fill="#fff"/>
<line x1="1683.47" y1="319.2" x2="1683.47" y2="421" stroke="#000" stroke-width="5.75" stroke-dasharray="7.5 7.5" stroke-dashoffset="5.8"/>
<line x1="1690.1" y1="319.2" x2="1690.1" y2="421" stroke="#000" stroke-width="7.5" stroke-dasharray="7.5 7.5" stroke-dashoffset="13.3"/>
<line x1="1696.72" y1="319.2" x2="1696.72" y2="421" stroke="#000" stroke-width="5.75" stroke-dasharray="7.5 7.5" stroke-dashoffset="5.8"/>
<rect x="1683.1" y="89.4" width="14" height="2.2" fill="#2b2b2b"/>
<rect x="1689" y="90.5" width="2.2" height="17.9" fill="#2b2b2b"/>
<rect x="1718.6" y="96.8" width="29" height="29.4" fill="#000"/>
<rect x="1723.6" y="101.8" width="19" height="24.4" fill="#fff"/>
<line x1="1733.1" y1="101.8" x2="1733.1" y2="126.2" stroke="#111" stroke-width="19" stroke-dasharray="1.8 9.45" stroke-dashoffset="4.65"/>
<rect x="1718.6" y="153.7" width="29" height="137.3" fill="#000"/>
<rect x="1723.6" y="153.7" width="19" height="137.3" fill="#fff"/>
<line x1="1733.1" y1="153.7" x2="1733.1" y2="291" stroke="#111" stroke-width="19" stroke-dasharray="1.8 9.45" stroke-dashoffset="0.3"/>
<rect x="1718.6" y="319.2" width="29" height="101.8" fill="#000"/>
<rect x="1723.6" y="319.2" width="19" height="101.8" fill="#fff"/>
<line x1="1733.1" y1="319.2" x2="1733.1" y2="421" stroke="#111" stroke-width="19" stroke-dasharray="1.8 9.45" stroke-dashoffset="8.3"/>
<rect x="1726.1" y="75.2" width="14" height="2.2" fill="#2b2b2b"/>
<rect x="1732" y="76.3" width="2.2" height="20.5" fill="#2b2b2b"/>
<text x="386.8" y="251.8" font-family='"Liberation Sans", "DejaVu Sans", sans-serif' font-size="27" text-anchor="middle" fill="#111">ab</text>
<text x="431.6" y="260.4" font-family='"Liberation Sans", "DejaVu Sans", sans-serif' font-size="27" text-anchor="middle" fill="#111">b</text>
<text x="473" y="206.5" font-family='"Liberation Sans", "DejaVu Sans", sans-serif' font-size="27" text-anchor="middle" fill="#111">a</text>
<text x="704.3" y="216.7" font-family='"Liberation Sans", "DejaVu Sans", sans-serif' font-size="27" text-anchor="middle" fill="#111">b</text>
<text x="750.3" y="189.1" font-family='"Liberation Sans", "DejaVu Sans", sans-serif' font-size="27" text-anchor="middle" fill="#111">ab</text>
<text x="788.6" y="160.2" font-family='"Liberation Sans", "DejaVu Sans", sans-serif' font-size="27" text-anchor="middle" fill="#111">a</text>
<rect x="354.25" y="19.5" width="5.5" height="109.2" fill="#000"/>
<rect x="354.25" y="151.3" width="5.5" height="142.9" fill="#000"/>
<rect x="354.25" y="316" width="5.5" height="109.5" fill="#000"/>
<rect x="340.5" y="420.05" width="1426.3" height="5.5" fill="#000"/>
<line x1="348.7" y1="121.1" x2="365.9" y2="136.3" stroke="#000" stroke-width="5.5"/>
<line x1="348.7" y1="143.7" x2="365.9" y2="158.9" stroke="#000" stroke-width="5.5"/>
<line x1="348.7" y1="286.6" x2="365.9" y2="301.8" stroke="#000" stroke-width="5.5"/>
<line x1="348.7" y1="308.4" x2="365.9" y2="323.6" stroke="#000" stroke-width="5.5"/>
<rect x="340.8" y="19.55" width="16.2" height="5.5" fill="#000"/>
<text x="336.3" y="32.2" font-family='"Liberation Serif", "DejaVu Serif", serif' font-size="28" font-weight="bold" text-anchor="end" fill="#000">2000</text>
<rect x="340.8" y="59.05" width="16.2" height="5.5" fill="#000"/>
<text x="336.3" y="71.7" font-family='"Liberation Serif", "DejaVu Serif", serif' font-size="28" font-weight="bold" text-anchor="end" fill="#000">1500</text>
<rect x="340.8" y="99.25" width="16.2" height="5.5" fill="#000"/>
<text x="336.3" y="111.9" font-family='"Liberation Serif", "DejaVu Serif", serif' font-size="28" font-weight="bold" text-anchor="end" fill="#000">1000</text>
<rect x="340.8" y="189.65" width="16.2" height="5.5" fill="#000"/>
<text x="336.3" y="202.3" font-family='"Liberation Serif", "DejaVu Serif", serif' font-size="28" font-weight="bold" text-anchor="end" fill="#000">400</text>
<rect x="340.8" y="241.05" width="16.2" height="5.5" fill="#000"/>
<text x="336.3" y="253.7" font-family='"Liberation Serif", "DejaVu Serif", serif' font-size="28" font-weight="bold" text-anchor="end" fill="#000">200</text>
<rect x="340.8" y="336.55" width="16.2" height="5.5" fill="#000"/>
<text x="336.3" y="349.2" font-family='"Liberation Serif", "DejaVu Serif", serif' font-size="28" font-weight="bold" text-anchor="end" fill="#000">4</text>
<rect x="340.8" y="377.95" width="16.2" height="5.5" fill="#000"/>
<text x="336.3" y="390.6" font-family='"Liberation Serif", "DejaVu Serif", serif' font-size="28" font-weight="bold" text-anchor="end" fill="#000">2</text>
<rect x="340.8" y="420.05" width="16.2" height="5.5" fill="#000"/>
<text x="336.3" y="432.7" font-family='"Liberation Serif", "DejaVu Serif", serif' font-size="28" font-weight="bold" text-anchor="end" fill="#000">0</text>
<rect x="425.25" y="422.8" width="5.5" height="16" fill="#000"/>
<rect x="582.95" y="422.8" width="5.5" height="16" fill="#000"/>
<rect x="740.65" y="422.8" width="5.5" height="16" fill="#000"/>
<rect x="898.35" y="422.8" width="5.5" height="16" fill="#000"/>
<rect x="1056.05" y="422.8" width="5.5" height="16" fill="#000"/>
<rect x="1213.75" y="422.8" width="5.5" height="16" fill="#000"/>
<rect x="1371.45" y="422.8" width="5.5" height="16" fill="#000"/>
<rect x="1529.15" y="422.8" width="5.5" height="16" fill="#000"/>
<rect x="1686.85" y="422.8" width="5.5" height="16" fill="#000"/>
<text x="428.8" y="469.5" font-family='"Liberation Serif", "DejaVu Serif", serif' font-size="28" font-weight="bold" text-anchor="middle" fill="#000">NH<tspan font-size="19.5" font-weight="normal" dy="6.8" textLength="8.6" lengthAdjust="spacingAndGlyphs">3</tspan><tspan dy="-6.8">-N</tspan></text>
<text x="587.4" y="469.5" font-family='"Liberation Serif", "DejaVu Serif", serif' font-size="28" font-weight="bold" text-anchor="middle" fill="#000">acetate</text>
<text x="745.1" y="469.5" font-family='"Liberation Serif", "DejaVu Serif", serif' font-size="28" font-weight="bold" text-anchor="middle" fill="#000">propionate</text>
<text x="902.8" y="469.5" font-family='"Liberation Serif", "DejaVu Serif", serif' font-size="28" font-weight="bold" text-anchor="middle" fill="#000">Isobutyrate</text>
<text x="1060.5" y="469.5" font-family='"Liberation Serif", "DejaVu Serif", serif' font-size="28" font-weight="bold" text-anchor="middle" fill="#000">butyrate</text>
<text x="1218.2" y="469.5" font-family='"Liberation Serif", "DejaVu Serif", serif' font-size="28" font-weight="bold" text-anchor="middle" fill="#000">Isovalerate</text>
<text x="1375.9" y="469.5" font-family='"Liberation Serif", "DejaVu Serif", serif' font-size="28" font-weight="bold" text-anchor="middle" fill="#000">valerate</text>
<text x="1533.6" y="469.5" font-family='"Liberation Serif", "DejaVu Serif", serif' font-size="28" font-weight="bold" text-anchor="middle" fill="#000">caproate</text>
<text x="1691.3" y="469.5" font-family='"Liberation Serif", "DejaVu Serif", serif' font-size="28" font-weight="bold" text-anchor="middle" fill="#000" textLength="128.3" lengthAdjust="spacing">Total VFA</text>
<text transform="translate(263.5,224) rotate(-90)" font-family='"Liberation Serif", "DejaVu Serif", serif' font-size="27.5" font-weight="bold" text-anchor="middle">μg/mL</text>
<rect x="1447" y="70" width="40.5" height="15.6" fill="#000"/>
<rect x="1451.8" y="74.8" width="30.9" height="6" fill="#fff"/>
<line x1="1452.03" y1="74.8" x2="1452.03" y2="80.8" stroke="#000" stroke-width="0.45" stroke-dasharray="3.75 3.75" stroke-dashoffset="0.5"/>
<line x1="1454.12" y1="74.8" x2="1454.12" y2="80.8" stroke="#000" stroke-width="3.75" stroke-dasharray="3.75 3.75" stroke-dashoffset="4.25"/>
<line x1="1457.88" y1="74.8" x2="1457.88" y2="80.8" stroke="#000" stroke-width="3.75" stroke-dasharray="3.75 3.75" stroke-dashoffset="0.5"/>
<line x1="1461.62" y1="74.8" x2="1461.62" y2="80.8" stroke="#000" stroke-width="3.75" stroke-dasharray="3.75 3.75" stroke-dashoffset="4.25"/>
<line x1="1465.38" y1="74.8" x2="1465.38" y2="80.8" stroke="#000" stroke-width="3.75" stroke-dasharray="3.75 3.75" stroke-dashoffset="0.5"/>
<line x1="1469.12" y1="74.8" x2="1469.12" y2="80.8" stroke="#000" stroke-width="3.75" stroke-dasharray="3.75 3.75" stroke-dashoffset="4.25"/>
<line x1="1472.88" y1="74.8" x2="1472.88" y2="80.8" stroke="#000" stroke-width="3.75" stroke-dasharray="3.75 3.75" stroke-dashoffset="0.5"/>
<line x1="1476.62" y1="74.8" x2="1476.62" y2="80.8" stroke="#000" stroke-width="3.75" stroke-dasharray="3.75 3.75" stroke-dashoffset="4.25"/>
<line x1="1480.38" y1="74.8" x2="1480.38" y2="80.8" stroke="#000" stroke-width="3.75" stroke-dasharray="3.75 3.75" stroke-dashoffset="0.5"/>
<line x1="1482.47" y1="74.8" x2="1482.47" y2="80.8" stroke="#000" stroke-width="0.45" stroke-dasharray="3.75 3.75" stroke-dashoffset="4.25"/>
<text x="1510.5" y="87.3" font-family='"Liberation Serif", "DejaVu Serif", serif' font-size="28" font-weight="bold" text-anchor="start" fill="#000">Con</text>
<rect x="1447" y="105.5" width="40.5" height="15.6" fill="#000"/>
<rect x="1451.8" y="110.3" width="30.9" height="6" fill="#fff"/>
<line x1="1453.9" y1="110.3" x2="1453.9" y2="116.3" stroke="#000" stroke-width="4.2" stroke-dasharray="7.5 7.5" stroke-dashoffset="9"/>
<line x1="1459.75" y1="110.3" x2="1459.75" y2="116.3" stroke="#000" stroke-width="7.5" stroke-dasharray="7.5 7.5" stroke-dashoffset="1.5"/>
<line x1="1467.25" y1="110.3" x2="1467.25" y2="116.3" stroke="#000" stroke-width="7.5" stroke-dasharray="7.5 7.5" stroke-dashoffset="9"/>
<line x1="1474.75" y1="110.3" x2="1474.75" y2="116.3" stroke="#000" stroke-width="7.5" stroke-dasharray="7.5 7.5" stroke-dashoffset="1.5"/>
<line x1="1480.6" y1="110.3" x2="1480.6" y2="116.3" stroke="#000" stroke-width="4.2" stroke-dasharray="7.5 7.5" stroke-dashoffset="9"/>
<text x="1511.3" y="123" font-family='"Liberation Serif", "DejaVu Serif", serif' font-size="28" font-weight="bold" text-anchor="start" fill="#000" textLength="50.2" lengthAdjust="spacingAndGlyphs">TR1</text>
<rect x="1447" y="142.2" width="40.5" height="15.6" fill="#000"/>
<rect x="1451.8" y="147" width="30.9" height="6" fill="#fff"/>
<text x="1511.3" y="159.5" font-family='"Liberation Serif", "DejaVu Serif", serif' font-size="28" font-weight="bold" text-anchor="start" fill="#000" textLength="50.6" lengthAdjust="spacingAndGlyphs">TR2</text>
</g>
<g id="panelC">
<text x="23.5" y="547.8" font-family='"Liberation Serif", "DejaVu Serif", serif' font-size="42" font-weight="normal" text-anchor="start" fill="#000">C</text>
<rect x="140" y="612.9" width="25.2" height="6.7" fill="#000"/>
<rect x="145.1" y="617.3" width="14.99" height="2.3" fill="#fff"/>
<line x1="145.7" y1="617.3" x2="145.7" y2="619.6" stroke="#000" stroke-width="1.2" stroke-dasharray="3.15 3.15" stroke-dashoffset="0.4"/>
<line x1="147.88" y1="617.3" x2="147.88" y2="619.6" stroke="#000" stroke-width="3.15" stroke-dasharray="3.15 3.15" stroke-dashoffset="3.55"/>
<line x1="151.02" y1="617.3" x2="151.02" y2="619.6" stroke="#000" stroke-width="3.15" stroke-dasharray="3.15 3.15" stroke-dashoffset="0.4"/>
<line x1="154.18" y1="617.3" x2="154.18" y2="619.6" stroke="#000" stroke-width="3.15" stroke-dasharray="3.15 3.15" stroke-dashoffset="3.55"/>
<line x1="157.32" y1="617.3" x2="157.32" y2="619.6" stroke="#000" stroke-width="3.15" stroke-dasharray="3.15 3.15" stroke-dashoffset="0.4"/>
<line x1="159.5" y1="617.3" x2="159.5" y2="619.6" stroke="#000" stroke-width="1.2" stroke-dasharray="3.15 3.15" stroke-dashoffset="3.55"/>
<rect x="140" y="643.9" width="25.2" height="86.1" fill="#000"/>
<rect x="145.1" y="643.9" width="14.99" height="86.1" fill="#fff"/>
<line x1="145.7" y1="643.9" x2="145.7" y2="730" stroke="#000" stroke-width="1.2" stroke-dasharray="3.15 3.15" stroke-dashoffset="1.8"/>
<line x1="147.88" y1="643.9" x2="147.88" y2="730" stroke="#000" stroke-width="3.15" stroke-dasharray="3.15 3.15" stroke-dashoffset="4.95"/>
<line x1="151.02" y1="643.9" x2="151.02" y2="730" stroke="#000" stroke-width="3.15" stroke-dasharray="3.15 3.15" stroke-dashoffset="1.8"/>
<line x1="154.18" y1="643.9" x2="154.18" y2="730" stroke="#000" stroke-width="3.15" stroke-dasharray="3.15 3.15" stroke-dashoffset="4.95"/>
<line x1="157.32" y1="643.9" x2="157.32" y2="730" stroke="#000" stroke-width="3.15" stroke-dasharray="3.15 3.15" stroke-dashoffset="1.8"/>
<line x1="159.5" y1="643.9" x2="159.5" y2="730" stroke="#000" stroke-width="1.2" stroke-dasharray="3.15 3.15" stroke-dashoffset="4.95"/>
<rect x="140" y="754.5" width="25.2" height="84.5" fill="#000"/>
<rect x="145.1" y="754.5" width="14.99" height="84.5" fill="#fff"/>
<line x1="145.7" y1="754.5" x2="145.7" y2="839" stroke="#000" stroke-width="1.2" stroke-dasharray="3.15 3.15" stroke-dashoffset="5.3"/>
<line x1="147.88" y1="754.5" x2="147.88" y2="839" stroke="#000" stroke-width="3.15" stroke-dasharray="3.15 3.15" stroke-dashoffset="2.15"/>
<line x1="151.02" y1="754.5" x2="151.02" y2="839" stroke="#000" stroke-width="3.15" stroke-dasharray="3.15 3.15" stroke-dashoffset="5.3"/>
<line x1="154.18" y1="754.5" x2="154.18" y2="839" stroke="#000" stroke-width="3.15" stroke-dasharray="3.15 3.15" stroke-dashoffset="2.15"/>
<line x1="157.32" y1="754.5" x2="157.32" y2="839" stroke="#000" stroke-width="3.15" stroke-dasharray="3.15 3.15" stroke-dashoffset="5.3"/>
<line x1="159.5" y1="754.5" x2="159.5" y2="839" stroke="#000" stroke-width="1.2" stroke-dasharray="3.15 3.15" stroke-dashoffset="2.15"/>
<rect x="146.6" y="607.35" width="12" height="1.7" fill="#2b2b2b"/>
<rect x="151.75" y="608.2" width="1.7" height="4.7" fill="#2b2b2b"/>
<rect x="177.7" y="590.7" width="25.2" height="28.9" fill="#000"/>
<rect x="182.1" y="595.1" width="16.4" height="24.5" fill="#fff"/>
<line x1="184.62" y1="595.1" x2="184.62" y2="619.6" stroke="#000" stroke-width="5.05" stroke-dasharray="6.3 6.3" stroke-dashoffset="8.5"/>
<line x1="190.3" y1="595.1" x2="190.3" y2="619.6" stroke="#000" stroke-width="6.3" stroke-dasharray="6.3 6.3" stroke-dashoffset="2.2"/>
<line x1="195.97" y1="595.1" x2="195.97" y2="619.6" stroke="#000" stroke-width="5.05" stroke-dasharray="6.3 6.3" stroke-dashoffset="8.5"/>
<rect x="177.7" y="643.9" width="25.2" height="86.1" fill="#000"/>
<rect x="182.1" y="643.9" width="16.4" height="86.1" fill="#fff"/>
<line x1="184.62" y1="643.9" x2="184.62" y2="730" stroke="#000" stroke-width="5.05" stroke-dasharray="6.3 6.3" stroke-dashoffset="6.9"/>
<line x1="190.3" y1="643.9" x2="190.3" y2="730" stroke="#000" stroke-width="6.3" stroke-dasharray="6.3 6.3" stroke-dashoffset="0.6"/>
<line x1="195.97" y1="643.9" x2="195.97" y2="730" stroke="#000" stroke-width="5.05" stroke-dasharray="6.3 6.3" stroke-dashoffset="6.9"/>
<rect x="177.7" y="754.5" width="25.2" height="84.5" fill="#000"/>
<rect x="182.1" y="754.5" width="16.4" height="84.5" fill="#fff"/>
<line x1="184.62" y1="754.5" x2="184.62" y2="839" stroke="#000" stroke-width="5.05" stroke-dasharray="6.3 6.3" stroke-dashoffset="4.1"/>
<line x1="190.3" y1="754.5" x2="190.3" y2="839" stroke="#000" stroke-width="6.3" stroke-dasharray="6.3 6.3" stroke-dashoffset="10.4"/>
<line x1="195.97" y1="754.5" x2="195.97" y2="839" stroke="#000" stroke-width="5.05" stroke-dasharray="6.3 6.3" stroke-dashoffset="4.1"/>
<rect x="184.3" y="575.75" width="12" height="1.7" fill="#2b2b2b"/>
<rect x="189.45" y="576.6" width="1.7" height="14.1" fill="#2b2b2b"/>
<rect x="215.4" y="579" width="25.2" height="40.6" fill="#000"/>
<rect x="219.8" y="583.4" width="16.4" height="36.2" fill="#fff"/>
<line x1="228" y1="583.4" x2="228" y2="619.6" stroke="#111" stroke-width="16.4" stroke-dasharray="1.6 7.75" stroke-dashoffset="5.05"/>
<rect x="215.4" y="643.9" width="25.2" height="86.1" fill="#000"/>
<rect x="219.8" y="643.9" width="16.4" height="86.1" fill="#fff"/>
<line x1="228" y1="643.9" x2="228" y2="730" stroke="#111" stroke-width="16.4" stroke-dasharray="1.6 7.75" stroke-dashoffset="0.1"/>
<rect x="215.4" y="754.5" width="25.2" height="84.5" fill="#000"/>
<rect x="219.8" y="754.5" width="16.4" height="84.5" fill="#fff"/>
<line x1="228" y1="754.5" x2="228" y2="839" stroke="#111" stroke-width="16.4" stroke-dasharray="1.6 7.75" stroke-dashoffset="7.85"/>
<rect x="222" y="548.35" width="12" height="1.7" fill="#2b2b2b"/>
<rect x="227.15" y="549.2" width="1.7" height="29.8" fill="#2b2b2b"/>
<rect x="278.65" y="700.9" width="25.2" height="29.1" fill="#000"/>
<rect x="283.75" y="705.3" width="14.99" height="24.7" fill="#fff"/>
<line x1="284.35" y1="705.3" x2="284.35" y2="730" stroke="#000" stroke-width="1.2" stroke-dasharray="3.15 3.15" stroke-dashoffset="0.4"/>
<line x1="286.53" y1="705.3" x2="286.53" y2="730" stroke="#000" stroke-width="3.15" stroke-dasharray="3.15 3.15" stroke-dashoffset="3.55"/>
<line x1="289.68" y1="705.3" x2="289.68" y2="730" stroke="#000" stroke-width="3.15" stroke-dasharray="3.15 3.15" stroke-dashoffset="0.4"/>
<line x1="292.83" y1="705.3" x2="292.83" y2="730" stroke="#000" stroke-width="3.15" stroke-dasharray="3.15 3.15" stroke-dashoffset="3.55"/>
<line x1="295.98" y1="705.3" x2="295.98" y2="730" stroke="#000" stroke-width="3.15" stroke-dasharray="3.15 3.15" stroke-dashoffset="0.4"/>
<line x1="298.15" y1="705.3" x2="298.15" y2="730" stroke="#000" stroke-width="1.2" stroke-dasharray="3.15 3.15" stroke-dashoffset="3.55"/>
<rect x="278.65" y="754.5" width="25.2" height="84.5" fill="#000"/>
<rect x="283.75" y="754.5" width="14.99" height="84.5" fill="#fff"/>
<line x1="284.35" y1="754.5" x2="284.35" y2="839" stroke="#000" stroke-width="1.2" stroke-dasharray="3.15 3.15" stroke-dashoffset="5.5"/>
<line x1="286.53" y1="754.5" x2="286.53" y2="839" stroke="#000" stroke-width="3.15" stroke-dasharray="3.15 3.15" stroke-dashoffset="2.35"/>
<line x1="289.68" y1="754.5" x2="289.68" y2="839" stroke="#000" stroke-width="3.15" stroke-dasharray="3.15 3.15" stroke-dashoffset="5.5"/>
<line x1="292.83" y1="754.5" x2="292.83" y2="839" stroke="#000" stroke-width="3.15" stroke-dasharray="3.15 3.15" stroke-dashoffset="2.35"/>
<line x1="295.98" y1="754.5" x2="295.98" y2="839" stroke="#000" stroke-width="3.15" stroke-dasharray="3.15 3.15" stroke-dashoffset="5.5"/>
<line x1="298.15" y1="754.5" x2="298.15" y2="839" stroke="#000" stroke-width="1.2" stroke-dasharray="3.15 3.15" stroke-dashoffset="2.35"/>
<rect x="285.25" y="699.15" width="12" height="1.7" fill="#2b2b2b"/>
<rect x="290.4" y="700" width="1.7" height="0.9" fill="#2b2b2b"/>
<rect x="316.35" y="699.8" width="25.2" height="30.2" fill="#000"/>
<rect x="320.75" y="704.2" width="16.4" height="25.8" fill="#fff"/>
<line x1="323.27" y1="704.2" x2="323.27" y2="730" stroke="#000" stroke-width="5.05" stroke-dasharray="6.3 6.3" stroke-dashoffset="8.5"/>
<line x1="328.95" y1="704.2" x2="328.95" y2="730" stroke="#000" stroke-width="6.3" stroke-dasharray="6.3 6.3" stroke-dashoffset="2.2"/>
<line x1="334.62" y1="704.2" x2="334.62" y2="730" stroke="#000" stroke-width="5.05" stroke-dasharray="6.3 6.3" stroke-dashoffset="8.5"/>
<rect x="316.35" y="754.5" width="25.2" height="84.5" fill="#000"/>
<rect x="320.75" y="754.5" width="16.4" height="84.5" fill="#fff"/>
<line x1="323.27" y1="754.5" x2="323.27" y2="839" stroke="#000" stroke-width="5.05" stroke-dasharray="6.3 6.3" stroke-dashoffset="8.4"/>
<line x1="328.95" y1="754.5" x2="328.95" y2="839" stroke="#000" stroke-width="6.3" stroke-dasharray="6.3 6.3" stroke-dashoffset="2.1"/>
<line x1="334.62" y1="754.5" x2="334.62" y2="839" stroke="#000" stroke-width="5.05" stroke-dasharray="6.3 6.3" stroke-dashoffset="8.4"/>
<rect x="322.95" y="697.35" width="12" height="1.7" fill="#2b2b2b"/>
<rect x="328.1" y="698.2" width="1.7" height="1.6" fill="#2b2b2b"/>
<rect x="354.05" y="699.4" width="25.2" height="30.6" fill="#000"/>
<rect x="358.45" y="703.8" width="16.4" height="26.2" fill="#fff"/>
<line x1="366.65" y1="703.8" x2="366.65" y2="730" stroke="#111" stroke-width="16.4" stroke-dasharray="1.6 7.75" stroke-dashoffset="5.05"/>
<rect x="354.05" y="754.5" width="25.2" height="84.5" fill="#000"/>
<rect x="358.45" y="754.5" width="16.4" height="84.5" fill="#fff"/>
<line x1="366.65" y1="754.5" x2="366.65" y2="839" stroke="#111" stroke-width="16.4" stroke-dasharray="1.6 7.75" stroke-dashoffset="9"/>
<rect x="360.65" y="697.35" width="12" height="1.7" fill="#2b2b2b"/>
<rect x="365.8" y="698.2" width="1.7" height="1.2" fill="#2b2b2b"/>
<rect x="417.3" y="692" width="25.2" height="38" fill="#000"/>
<rect x="422.4" y="696.4" width="14.99" height="33.6" fill="#fff"/>
<line x1="423" y1="696.4" x2="423" y2="730" stroke="#000" stroke-width="1.2" stroke-dasharray="3.15 3.15" stroke-dashoffset="0.4"/>
<line x1="425.18" y1="696.4" x2="425.18" y2="730" stroke="#000" stroke-width="3.15" stroke-dasharray="3.15 3.15" stroke-dashoffset="3.55"/>
<line x1="428.33" y1="696.4" x2="428.33" y2="730" stroke="#000" stroke-width="3.15" stroke-dasharray="3.15 3.15" stroke-dashoffset="0.4"/>
<line x1="431.48" y1="696.4" x2="431.48" y2="730" stroke="#000" stroke-width="3.15" stroke-dasharray="3.15 3.15" stroke-dashoffset="3.55"/>
<line x1="434.63" y1="696.4" x2="434.63" y2="730" stroke="#000" stroke-width="3.15" stroke-dasharray="3.15 3.15" stroke-dashoffset="0.4"/>
<line x1="436.8" y1="696.4" x2="436.8" y2="730" stroke="#000" stroke-width="1.2" stroke-dasharray="3.15 3.15" stroke-dashoffset="3.55"/>
<rect x="417.3" y="754.5" width="25.2" height="84.5" fill="#000"/>
<rect x="422.4" y="754.5" width="14.99" height="84.5" fill="#fff"/>
<line x1="423" y1="754.5" x2="423" y2="839" stroke="#000" stroke-width="1.2" stroke-dasharray="3.15 3.15" stroke-dashoffset="1.8"/>
<line x1="425.18" y1="754.5" x2="425.18" y2="839" stroke="#000" stroke-width="3.15" stroke-dasharray="3.15 3.15" stroke-dashoffset="4.95"/>
<line x1="428.33" y1="754.5" x2="428.33" y2="839" stroke="#000" stroke-width="3.15" stroke-dasharray="3.15 3.15" stroke-dashoffset="1.8"/>
<line x1="431.48" y1="754.5" x2="431.48" y2="839" stroke="#000" stroke-width="3.15" stroke-dasharray="3.15 3.15" stroke-dashoffset="4.95"/>
<line x1="434.63" y1="754.5" x2="434.63" y2="839" stroke="#000" stroke-width="3.15" stroke-dasharray="3.15 3.15" stroke-dashoffset="1.8"/>
<line x1="436.8" y1="754.5" x2="436.8" y2="839" stroke="#000" stroke-width="1.2" stroke-dasharray="3.15 3.15" stroke-dashoffset="4.95"/>
<rect x="423.9" y="683.55" width="12" height="1.7" fill="#2b2b2b"/>
<rect x="429.05" y="684.4" width="1.7" height="7.6" fill="#2b2b2b"/>
<rect x="455" y="678.5" width="25.2" height="51.5" fill="#000"/>
<rect x="459.4" y="682.9" width="16.4" height="47.1" fill="#fff"/>
<line x1="461.93" y1="682.9" x2="461.93" y2="730" stroke="#000" stroke-width="5.05" stroke-dasharray="6.3 6.3" stroke-dashoffset="8.5"/>
<line x1="467.6" y1="682.9" x2="467.6" y2="730" stroke="#000" stroke-width="6.3" stroke-dasharray="6.3 6.3" stroke-dashoffset="2.2"/>
<line x1="473.28" y1="682.9" x2="473.28" y2="730" stroke="#000" stroke-width="5.05" stroke-dasharray="6.3 6.3" stroke-dashoffset="8.5"/>
<rect x="455" y="754.5" width="25.2" height="84.5" fill="#000"/>
<rect x="459.4" y="754.5" width="16.4" height="84.5" fill="#fff"/>
<line x1="461.93" y1="754.5" x2="461.93" y2="839" stroke="#000" stroke-width="5.05" stroke-dasharray="6.3 6.3" stroke-dashoffset="4.5"/>
<line x1="467.6" y1="754.5" x2="467.6" y2="839" stroke="#000" stroke-width="6.3" stroke-dasharray="6.3 6.3" stroke-dashoffset="10.8"/>
<line x1="473.28" y1="754.5" x2="473.28" y2="839" stroke="#000" stroke-width="5.05" stroke-dasharray="6.3 6.3" stroke-dashoffset="4.5"/>
<rect x="461.6" y="674.45" width="12" height="1.7" fill="#2b2b2b"/>
<rect x="466.75" y="675.3" width="1.7" height="3.2" fill="#2b2b2b"/>
<rect x="492.7" y="665.6" width="25.2" height="64.4" fill="#000"/>
<rect x="497.1" y="670" width="16.4" height="60" fill="#fff"/>
<line x1="505.3" y1="670" x2="505.3" y2="730" stroke="#111" stroke-width="16.4" stroke-dasharray="1.6 7.75" stroke-dashoffset="5.05"/>
<rect x="492.7" y="754.5" width="25.2" height="84.5" fill="#000"/>
<rect x="497.1" y="754.5" width="16.4" height="84.5" fill="#fff"/>
<line x1="505.3" y1="754.5" x2="505.3" y2="839" stroke="#111" stroke-width="16.4" stroke-dasharray="1.6 7.75" stroke-dashoffset="5.4"/>
<rect x="499.3" y="657.95" width="12" height="1.7" fill="#2b2b2b"/>
<rect x="504.45" y="658.8" width="1.7" height="6.8" fill="#2b2b2b"/>
<rect x="555.95" y="678.5" width="25.2" height="51.5" fill="#000"/>
<rect x="561.05" y="682.9" width="14.99" height="47.1" fill="#fff"/>
<line x1="561.65" y1="682.9" x2="561.65" y2="730" stroke="#000" stroke-width="1.2" stroke-dasharray="3.15 3.15" stroke-dashoffset="0.4"/>
<line x1="563.83" y1="682.9" x2="563.83" y2="730" stroke="#000" stroke-width="3.15" stroke-dasharray="3.15 3.15" stroke-dashoffset="3.55"/>
<line x1="566.98" y1="682.9" x2="566.98" y2="730" stroke="#000" stroke-width="3.15" stroke-dasharray="3.15 3.15" stroke-dashoffset="0.4"/>
<line x1="570.12" y1="682.9" x2="570.12" y2="730" stroke="#000" stroke-width="3.15" stroke-dasharray="3.15 3.15" stroke-dashoffset="3.55"/>
<line x1="573.28" y1="682.9" x2="573.28" y2="730" stroke="#000" stroke-width="3.15" stroke-dasharray="3.15 3.15" stroke-dashoffset="0.4"/>
<line x1="575.45" y1="682.9" x2="575.45" y2="730" stroke="#000" stroke-width="1.2" stroke-dasharray="3.15 3.15" stroke-dashoffset="3.55"/>
<rect x="555.95" y="754.5" width="25.2" height="84.5" fill="#000"/>
<rect x="561.05" y="754.5" width="14.99" height="84.5" fill="#fff"/>
<line x1="561.65" y1="754.5" x2="561.65" y2="839" stroke="#000" stroke-width="1.2" stroke-dasharray="3.15 3.15" stroke-dashoffset="2.7"/>
<line x1="563.83" y1="754.5" x2="563.83" y2="839" stroke="#000" stroke-width="3.15" stroke-dasharray="3.15 3.15" stroke-dashoffset="5.85"/>
<line x1="566.98" y1="754.5" x2="566.98" y2="839" stroke="#000" stroke-width="3.15" stroke-dasharray="3.15 3.15" stroke-dashoffset="2.7"/>
<line x1="570.12" y1="754.5" x2="570.12" y2="839" stroke="#000" stroke-width="3.15" stroke-dasharray="3.15 3.15" stroke-dashoffset="5.85"/>
<line x1="573.28" y1="754.5" x2="573.28" y2="839" stroke="#000" stroke-width="3.15" stroke-dasharray="3.15 3.15" stroke-dashoffset="2.7"/>
<line x1="575.45" y1="754.5" x2="575.45" y2="839" stroke="#000" stroke-width="1.2" stroke-dasharray="3.15 3.15" stroke-dashoffset="5.85"/>
<rect x="562.55" y="672.25" width="12" height="1.7" fill="#2b2b2b"/>
<rect x="567.7" y="673.1" width="1.7" height="5.4" fill="#2b2b2b"/>
<rect x="593.65" y="677.7" width="25.2" height="52.3" fill="#000"/>
<rect x="598.05" y="682.1" width="16.4" height="47.9" fill="#fff"/>
<line x1="600.58" y1="682.1" x2="600.58" y2="730" stroke="#000" stroke-width="5.05" stroke-dasharray="6.3 6.3" stroke-dashoffset="8.5"/>
<line x1="606.25" y1="682.1" x2="606.25" y2="730" stroke="#000" stroke-width="6.3" stroke-dasharray="6.3 6.3" stroke-dashoffset="2.2"/>
<line x1="611.93" y1="682.1" x2="611.93" y2="730" stroke="#000" stroke-width="5.05" stroke-dasharray="6.3 6.3" stroke-dashoffset="8.5"/>
<rect x="593.65" y="754.5" width="25.2" height="84.5" fill="#000"/>
<rect x="598.05" y="754.5" width="16.4" height="84.5" fill="#fff"/>
<line x1="600.58" y1="754.5" x2="600.58" y2="839" stroke="#000" stroke-width="5.05" stroke-dasharray="6.3 6.3" stroke-dashoffset="5.3"/>
<line x1="606.25" y1="754.5" x2="606.25" y2="839" stroke="#000" stroke-width="6.3" stroke-dasharray="6.3 6.3" stroke-dashoffset="11.6"/>
<line x1="611.93" y1="754.5" x2="611.93" y2="839" stroke="#000" stroke-width="5.05" stroke-dasharray="6.3 6.3" stroke-dashoffset="5.3"/>
<rect x="600.25" y="665.55" width="12" height="1.7" fill="#2b2b2b"/>
<rect x="605.4" y="666.4" width="1.7" height="11.3" fill="#2b2b2b"/>
<rect x="631.35" y="679.3" width="25.2" height="50.7" fill="#000"/>
<rect x="635.75" y="683.7" width="16.4" height="46.3" fill="#fff"/>
<line x1="643.95" y1="683.7" x2="643.95" y2="730" stroke="#111" stroke-width="16.4" stroke-dasharray="1.6 7.75" stroke-dashoffset="5.05"/>
<rect x="631.35" y="754.5" width="25.2" height="84.5" fill="#000"/>
<rect x="635.75" y="754.5" width="16.4" height="84.5" fill="#fff"/>
<line x1="643.95" y1="754.5" x2="643.95" y2="839" stroke="#111" stroke-width="16.4" stroke-dasharray="1.6 7.75" stroke-dashoffset="1.05"/>
<rect x="637.95" y="676.25" width="12" height="1.7" fill="#2b2b2b"/>
<rect x="643.1" y="677.1" width="1.7" height="2.2" fill="#2b2b2b"/>
<rect x="694.6" y="601.7" width="25.2" height="17.9" fill="#000"/>
<rect x="699.7" y="606.1" width="14.99" height="13.5" fill="#fff"/>
<line x1="700.3" y1="606.1" x2="700.3" y2="619.6" stroke="#000" stroke-width="1.2" stroke-dasharray="3.15 3.15" stroke-dashoffset="0.4"/>
<line x1="702.48" y1="606.1" x2="702.48" y2="619.6" stroke="#000" stroke-width="3.15" stroke-dasharray="3.15 3.15" stroke-dashoffset="3.55"/>
<line x1="705.62" y1="606.1" x2="705.62" y2="619.6" stroke="#000" stroke-width="3.15" stroke-dasharray="3.15 3.15" stroke-dashoffset="0.4"/>
<line x1="708.78" y1="606.1" x2="708.78" y2="619.6" stroke="#000" stroke-width="3.15" stroke-dasharray="3.15 3.15" stroke-dashoffset="3.55"/>
<line x1="711.93" y1="606.1" x2="711.93" y2="619.6" stroke="#000" stroke-width="3.15" stroke-dasharray="3.15 3.15" stroke-dashoffset="0.4"/>
<line x1="714.1" y1="606.1" x2="714.1" y2="619.6" stroke="#000" stroke-width="1.2" stroke-dasharray="3.15 3.15" stroke-dashoffset="3.55"/>
<rect x="694.6" y="643.9" width="25.2" height="86.1" fill="#000"/>
<rect x="699.7" y="643.9" width="14.99" height="86.1" fill="#fff"/>
<line x1="700.3" y1="643.9" x2="700.3" y2="730" stroke="#000" stroke-width="1.2" stroke-dasharray="3.15 3.15" stroke-dashoffset="0.4"/>
<line x1="702.48" y1="643.9" x2="702.48" y2="730" stroke="#000" stroke-width="3.15" stroke-dasharray="3.15 3.15" stroke-dashoffset="3.55"/>
<line x1="705.62" y1="643.9" x2="705.62" y2="730" stroke="#000" stroke-width="3.15" stroke-dasharray="3.15 3.15" stroke-dashoffset="0.4"/>
<line x1="708.78" y1="643.9" x2="708.78" y2="730" stroke="#000" stroke-width="3.15" stroke-dasharray="3.15 3.15" stroke-dashoffset="3.55"/>
<line x1="711.93" y1="643.9" x2="711.93" y2="730" stroke="#000" stroke-width="3.15" stroke-dasharray="3.15 3.15" stroke-dashoffset="0.4"/>
<line x1="714.1" y1="643.9" x2="714.1" y2="730" stroke="#000" stroke-width="1.2" stroke-dasharray="3.15 3.15" stroke-dashoffset="3.55"/>
<rect x="694.6" y="754.5" width="25.2" height="84.5" fill="#000"/>
<rect x="699.7" y="754.5" width="14.99" height="84.5" fill="#fff"/>
<line x1="700.3" y1="754.5" x2="700.3" y2="839" stroke="#000" stroke-width="1.2" stroke-dasharray="3.15 3.15" stroke-dashoffset="3.9"/>
<line x1="702.48" y1="754.5" x2="702.48" y2="839" stroke="#000" stroke-width="3.15" stroke-dasharray="3.15 3.15" stroke-dashoffset="0.75"/>
<line x1="705.62" y1="754.5" x2="705.62" y2="839" stroke="#000" stroke-width="3.15" stroke-dasharray="3.15 3.15" stroke-dashoffset="3.9"/>
<line x1="708.78" y1="754.5" x2="708.78" y2="839" stroke="#000" stroke-width="3.15" stroke-dasharray="3.15 3.15" stroke-dashoffset="0.75"/>
<line x1="711.93" y1="754.5" x2="711.93" y2="839" stroke="#000" stroke-width="3.15" stroke-dasharray="3.15 3.15" stroke-dashoffset="3.9"/>
<line x1="714.1" y1="754.5" x2="714.1" y2="839" stroke="#000" stroke-width="1.2" stroke-dasharray="3.15 3.15" stroke-dashoffset="0.75"/>
<rect x="701.2" y="599.55" width="12" height="1.7" fill="#2b2b2b"/>
<rect x="706.35" y="600.4" width="1.7" height="1.3" fill="#2b2b2b"/>
<rect x="732.3" y="597.2" width="25.2" height="22.4" fill="#000"/>
<rect x="736.7" y="601.6" width="16.4" height="18" fill="#fff"/>
<line x1="739.23" y1="601.6" x2="739.23" y2="619.6" stroke="#000" stroke-width="5.05" stroke-dasharray="6.3 6.3" stroke-dashoffset="8.5"/>
<line x1="744.9" y1="601.6" x2="744.9" y2="619.6" stroke="#000" stroke-width="6.3" stroke-dasharray="6.3 6.3" stroke-dashoffset="2.2"/>
<line x1="750.58" y1="601.6" x2="750.58" y2="619.6" stroke="#000" stroke-width="5.05" stroke-dasharray="6.3 6.3" stroke-dashoffset="8.5"/>
<rect x="732.3" y="643.9" width="25.2" height="86.1" fill="#000"/>
<rect x="736.7" y="643.9" width="16.4" height="86.1" fill="#fff"/>
<line x1="739.23" y1="643.9" x2="739.23" y2="730" stroke="#000" stroke-width="5.05" stroke-dasharray="6.3 6.3" stroke-dashoffset="0.4"/>
<line x1="744.9" y1="643.9" x2="744.9" y2="730" stroke="#000" stroke-width="6.3" stroke-dasharray="6.3 6.3" stroke-dashoffset="6.7"/>
<line x1="750.58" y1="643.9" x2="750.58" y2="730" stroke="#000" stroke-width="5.05" stroke-dasharray="6.3 6.3" stroke-dashoffset="0.4"/>
<rect x="732.3" y="754.5" width="25.2" height="84.5" fill="#000"/>
<rect x="736.7" y="754.5" width="16.4" height="84.5" fill="#fff"/>
<line x1="739.23" y1="754.5" x2="739.23" y2="839" stroke="#000" stroke-width="5.05" stroke-dasharray="6.3 6.3" stroke-dashoffset="10.2"/>
<line x1="744.9" y1="754.5" x2="744.9" y2="839" stroke="#000" stroke-width="6.3" stroke-dasharray="6.3 6.3" stroke-dashoffset="3.9"/>
<line x1="750.58" y1="754.5" x2="750.58" y2="839" stroke="#000" stroke-width="5.05" stroke-dasharray="6.3 6.3" stroke-dashoffset="10.2"/>
<rect x="738.9" y="594.15" width="12" height="1.7" fill="#2b2b2b"/>
<rect x="744.05" y="595" width="1.7" height="2.2" fill="#2b2b2b"/>
<rect x="770" y="597.2" width="25.2" height="22.4" fill="#000"/>
<rect x="774.4" y="601.6" width="16.4" height="18" fill="#fff"/>
<line x1="782.6" y1="601.6" x2="782.6" y2="619.6" stroke="#111" stroke-width="16.4" stroke-dasharray="1.6 7.75" stroke-dashoffset="5.05"/>
<rect x="770" y="643.9" width="25.2" height="86.1" fill="#000"/>
<rect x="774.4" y="643.9" width="16.4" height="86.1" fill="#fff"/>
<line x1="782.6" y1="643.9" x2="782.6" y2="730" stroke="#111" stroke-width="16.4" stroke-dasharray="1.6 7.75" stroke-dashoffset="0.6"/>
<rect x="770" y="754.5" width="25.2" height="84.5" fill="#000"/>
<rect x="774.4" y="754.5" width="16.4" height="84.5" fill="#fff"/>
<line x1="782.6" y1="754.5" x2="782.6" y2="839" stroke="#111" stroke-width="16.4" stroke-dasharray="1.6 7.75" stroke-dashoffset="8.35"/>
<rect x="776.6" y="589.35" width="12" height="1.7" fill="#2b2b2b"/>
<rect x="781.75" y="590.2" width="1.7" height="7" fill="#2b2b2b"/>
<rect x="833.25" y="823.4" width="25.2" height="15.6" fill="#000"/>
<rect x="838.35" y="827.8" width="14.99" height="11.2" fill="#fff"/>
<line x1="838.95" y1="827.8" x2="838.95" y2="839" stroke="#000" stroke-width="1.2" stroke-dasharray="3.15 3.15" stroke-dashoffset="0.4"/>
<line x1="841.12" y1="827.8" x2="841.12" y2="839" stroke="#000" stroke-width="3.15" stroke-dasharray="3.15 3.15" stroke-dashoffset="3.55"/>
<line x1="844.28" y1="827.8" x2="844.28" y2="839" stroke="#000" stroke-width="3.15" stroke-dasharray="3.15 3.15" stroke-dashoffset="0.4"/>
<line x1="847.42" y1="827.8" x2="847.42" y2="839" stroke="#000" stroke-width="3.15" stroke-dasharray="3.15 3.15" stroke-dashoffset="3.55"/>
<line x1="850.58" y1="827.8" x2="850.58" y2="839" stroke="#000" stroke-width="3.15" stroke-dasharray="3.15 3.15" stroke-dashoffset="0.4"/>
<line x1="852.75" y1="827.8" x2="852.75" y2="839" stroke="#000" stroke-width="1.2" stroke-dasharray="3.15 3.15" stroke-dashoffset="3.55"/>
<rect x="839.85" y="818.85" width="12" height="1.7" fill="#2b2b2b"/>
<rect x="845" y="819.7" width="1.7" height="3.7" fill="#2b2b2b"/>
<rect x="870.95" y="821.2" width="25.2" height="17.8" fill="#000"/>
<rect x="875.35" y="825.6" width="16.4" height="13.4" fill="#fff"/>
<line x1="877.88" y1="825.6" x2="877.88" y2="839" stroke="#000" stroke-width="5.05" stroke-dasharray="6.3 6.3" stroke-dashoffset="8.5"/>
<line x1="883.55" y1="825.6" x2="883.55" y2="839" stroke="#000" stroke-width="6.3" stroke-dasharray="6.3 6.3" stroke-dashoffset="2.2"/>
<line x1="889.23" y1="825.6" x2="889.23" y2="839" stroke="#000" stroke-width="5.05" stroke-dasharray="6.3 6.3" stroke-dashoffset="8.5"/>
<rect x="877.55" y="815.55" width="12" height="1.7" fill="#2b2b2b"/>
<rect x="882.7" y="816.4" width="1.7" height="4.8" fill="#2b2b2b"/>
<rect x="908.65" y="815.3" width="25.2" height="23.7" fill="#000"/>
<rect x="913.05" y="819.7" width="16.4" height="19.3" fill="#fff"/>
<line x1="921.25" y1="819.7" x2="921.25" y2="839" stroke="#111" stroke-width="16.4" stroke-dasharray="1.6 7.75" stroke-dashoffset="5.05"/>
<rect x="915.25" y="808.35" width="12" height="1.7" fill="#2b2b2b"/>
<rect x="920.4" y="809.2" width="1.7" height="6.1" fill="#2b2b2b"/>
<rect x="971.9" y="820.4" width="25.2" height="18.6" fill="#000"/>
<rect x="977" y="824.8" width="14.99" height="14.2" fill="#fff"/>
<line x1="977.6" y1="824.8" x2="977.6" y2="839" stroke="#000" stroke-width="1.2" stroke-dasharray="3.15 3.15" stroke-dashoffset="0.4"/>
<line x1="979.78" y1="824.8" x2="979.78" y2="839" stroke="#000" stroke-width="3.15" stroke-dasharray="3.15 3.15" stroke-dashoffset="3.55"/>
<line x1="982.93" y1="824.8" x2="982.93" y2="839" stroke="#000" stroke-width="3.15" stroke-dasharray="3.15 3.15" stroke-dashoffset="0.4"/>
<line x1="986.08" y1="824.8" x2="986.08" y2="839" stroke="#000" stroke-width="3.15" stroke-dasharray="3.15 3.15" stroke-dashoffset="3.55"/>
<line x1="989.23" y1="824.8" x2="989.23" y2="839" stroke="#000" stroke-width="3.15" stroke-dasharray="3.15 3.15" stroke-dashoffset="0.4"/>
<line x1="991.4" y1="824.8" x2="991.4" y2="839" stroke="#000" stroke-width="1.2" stroke-dasharray="3.15 3.15" stroke-dashoffset="3.55"/>
<rect x="978.5" y="815.15" width="12" height="1.7" fill="#2b2b2b"/>
<rect x="983.65" y="816" width="1.7" height="4.4" fill="#2b2b2b"/>
<rect x="1009.6" y="813.1" width="25.2" height="25.9" fill="#000"/>
<rect x="1014" y="817.5" width="16.4" height="21.5" fill="#fff"/>
<line x1="1016.53" y1="817.5" x2="1016.53" y2="839" stroke="#000" stroke-width="5.05" stroke-dasharray="6.3 6.3" stroke-dashoffset="8.5"/>
<line x1="1022.2" y1="817.5" x2="1022.2" y2="839" stroke="#000" stroke-width="6.3" stroke-dasharray="6.3 6.3" stroke-dashoffset="2.2"/>
<line x1="1027.88" y1="817.5" x2="1027.88" y2="839" stroke="#000" stroke-width="5.05" stroke-dasharray="6.3 6.3" stroke-dashoffset="8.5"/>
<rect x="1016.2" y="808.55" width="12" height="1.7" fill="#2b2b2b"/>
<rect x="1021.35" y="809.4" width="1.7" height="3.7" fill="#2b2b2b"/>
<rect x="1047.3" y="801.7" width="25.2" height="37.3" fill="#000"/>
<rect x="1051.7" y="806.1" width="16.4" height="32.9" fill="#fff"/>
<line x1="1059.9" y1="806.1" x2="1059.9" y2="839" stroke="#111" stroke-width="16.4" stroke-dasharray="1.6 7.75" stroke-dashoffset="5.05"/>
<rect x="1053.9" y="788.65" width="12" height="1.7" fill="#2b2b2b"/>
<rect x="1059.05" y="789.5" width="1.7" height="12.2" fill="#2b2b2b"/>
<rect x="1110.55" y="802.6" width="25.2" height="36.4" fill="#000"/>
<rect x="1115.65" y="807" width="14.99" height="32" fill="#fff"/>
<line x1="1116.25" y1="807" x2="1116.25" y2="839" stroke="#000" stroke-width="1.2" stroke-dasharray="3.15 3.15" stroke-dashoffset="0.4"/>
<line x1="1118.42" y1="807" x2="1118.42" y2="839" stroke="#000" stroke-width="3.15" stroke-dasharray="3.15 3.15" stroke-dashoffset="3.55"/>
<line x1="1121.58" y1="807" x2="1121.58" y2="839" stroke="#000" stroke-width="3.15" stroke-dasharray="3.15 3.15" stroke-dashoffset="0.4"/>
<line x1="1124.72" y1="807" x2="1124.72" y2="839" stroke="#000" stroke-width="3.15" stroke-dasharray="3.15 3.15" stroke-dashoffset="3.55"/>
<line x1="1127.88" y1="807" x2="1127.88" y2="839" stroke="#000" stroke-width="3.15" stroke-dasharray="3.15 3.15" stroke-dashoffset="0.4"/>
<line x1="1130.05" y1="807" x2="1130.05" y2="839" stroke="#000" stroke-width="1.2" stroke-dasharray="3.15 3.15" stroke-dashoffset="3.55"/>
<rect x="1117.15" y="800.25" width="12" height="1.7" fill="#2b2b2b"/>
<rect x="1122.3" y="801.1" width="1.7" height="1.5" fill="#2b2b2b"/>
<rect x="1148.25" y="789.7" width="25.2" height="49.3" fill="#000"/>
<rect x="1152.65" y="794.1" width="16.4" height="44.9" fill="#fff"/>
<line x1="1155.18" y1="794.1" x2="1155.18" y2="839" stroke="#000" stroke-width="5.05" stroke-dasharray="6.3 6.3" stroke-dashoffset="8.5"/>
<line x1="1160.85" y1="794.1" x2="1160.85" y2="839" stroke="#000" stroke-width="6.3" stroke-dasharray="6.3 6.3" stroke-dashoffset="2.2"/>
<line x1="1166.53" y1="794.1" x2="1166.53" y2="839" stroke="#000" stroke-width="5.05" stroke-dasharray="6.3 6.3" stroke-dashoffset="8.5"/>
<rect x="1154.85" y="783.75" width="12" height="1.7" fill="#2b2b2b"/>
<rect x="1160" y="784.6" width="1.7" height="5.1" fill="#2b2b2b"/>
<rect x="1185.95" y="773.7" width="25.2" height="65.3" fill="#000"/>
<rect x="1190.35" y="778.1" width="16.4" height="60.9" fill="#fff"/>
<line x1="1198.55" y1="778.1" x2="1198.55" y2="839" stroke="#111" stroke-width="16.4" stroke-dasharray="1.6 7.75" stroke-dashoffset="5.05"/>
<rect x="1192.55" y="763.45" width="12" height="1.7" fill="#2b2b2b"/>
<rect x="1197.7" y="764.3" width="1.7" height="9.4" fill="#2b2b2b"/>
<text x="154" y="602.4" font-family='"Liberation Sans", "DejaVu Sans", sans-serif' font-size="23.5" text-anchor="middle" fill="#111">b</text>
<text x="190.4" y="574.3" font-family='"Liberation Sans", "DejaVu Sans", sans-serif' font-size="23.5" text-anchor="middle" fill="#111">ab</text>
<text x="227.9" y="534.1" font-family='"Liberation Sans", "DejaVu Sans", sans-serif' font-size="23.5" text-anchor="middle" fill="#111">a</text>
<text x="429.5" y="680.6" font-family='"Liberation Sans", "DejaVu Sans", sans-serif' font-size="23.5" text-anchor="middle" fill="#111">c</text>
<text x="467.5" y="665.8" font-family='"Liberation Sans", "DejaVu Sans", sans-serif' font-size="23.5" text-anchor="middle" fill="#111">b</text>
<text x="504.6" y="650.2" font-family='"Liberation Sans", "DejaVu Sans", sans-serif' font-size="23.5" text-anchor="middle" fill="#111">a</text>
<text x="846.7" y="814.9" font-family='"Liberation Sans", "DejaVu Sans", sans-serif' font-size="23.5" text-anchor="middle" fill="#111">b</text>
<text x="884.5" y="809.2" font-family='"Liberation Sans", "DejaVu Sans", sans-serif' font-size="23.5" text-anchor="middle" fill="#111">ab</text>
<text x="920.1" y="801.5" font-family='"Liberation Sans", "DejaVu Sans", sans-serif' font-size="23.5" text-anchor="middle" fill="#111">a</text>
<text x="985.9" y="810.3" font-family='"Liberation Sans", "DejaVu Sans", sans-serif' font-size="23.5" text-anchor="middle" fill="#111">b</text>
<text x="1023.8" y="803.9" font-family='"Liberation Sans", "DejaVu Sans", sans-serif' font-size="23.5" text-anchor="middle" fill="#111">ab</text>
<text x="1059.3" y="778.5" font-family='"Liberation Sans", "DejaVu Sans", sans-serif' font-size="23.5" text-anchor="middle" fill="#111">a</text>
<text x="1123.4" y="795.2" font-family='"Liberation Sans", "DejaVu Sans", sans-serif' font-size="23.5" text-anchor="middle" fill="#111">c</text>
<text x="1160" y="779.2" font-family='"Liberation Sans", "DejaVu Sans", sans-serif' font-size="23.5" text-anchor="middle" fill="#111">b</text>
<text x="1197.3" y="754.6" font-family='"Liberation Sans", "DejaVu Sans", sans-serif' font-size="23.5" text-anchor="middle" fill="#111">a</text>
<rect x="125" y="530.3" width="4.6" height="93.9" fill="#000"/>
<rect x="125" y="641" width="4.6" height="92.6" fill="#000"/>
<rect x="125" y="750.6" width="4.6" height="92.9" fill="#000"/>
<rect x="113.2" y="838.5" width="1115.3" height="5.2" fill="#000"/>
<line x1="119.9" y1="617.2" x2="135.5" y2="631.2" stroke="#000" stroke-width="4.6"/>
<line x1="119.9" y1="634" x2="135.5" y2="648" stroke="#000" stroke-width="4.6"/>
<line x1="119.9" y1="726.6" x2="135.5" y2="740.6" stroke="#000" stroke-width="4.6"/>
<line x1="119.9" y1="743.6" x2="135.5" y2="757.6" stroke="#000" stroke-width="4.6"/>
<rect x="114.1" y="530" width="13.2" height="4.6" fill="#000"/>
<text x="109.7" y="540.1" font-family='"Liberation Serif", "DejaVu Serif", serif' font-size="22.8" font-weight="bold" text-anchor="end" fill="#000">500</text>
<rect x="114.1" y="550.9" width="13.2" height="4.6" fill="#000"/>
<text x="109.7" y="561" font-family='"Liberation Serif", "DejaVu Serif", serif' font-size="22.8" font-weight="bold" text-anchor="end" fill="#000">400</text>
<rect x="114.1" y="571.6" width="13.2" height="4.6" fill="#000"/>
<text x="109.7" y="581.7" font-family='"Liberation Serif", "DejaVu Serif", serif' font-size="22.8" font-weight="bold" text-anchor="end" fill="#000">300</text>
<rect x="114.1" y="592.4" width="13.2" height="4.6" fill="#000"/>
<text x="109.7" y="602.5" font-family='"Liberation Serif", "DejaVu Serif", serif' font-size="22.8" font-weight="bold" text-anchor="end" fill="#000">200</text>
<rect x="114.1" y="613.3" width="13.2" height="4.6" fill="#000"/>
<text x="109.7" y="623.4" font-family='"Liberation Serif", "DejaVu Serif", serif' font-size="22.8" font-weight="bold" text-anchor="end" fill="#000">100</text>
<rect x="114.1" y="655.1" width="13.2" height="4.6" fill="#000"/>
<text x="109.7" y="665.2" font-family='"Liberation Serif", "DejaVu Serif", serif' font-size="22.8" font-weight="bold" text-anchor="end" fill="#000">60</text>
<rect x="114.1" y="681.6" width="13.2" height="4.6" fill="#000"/>
<text x="109.7" y="691.7" font-family='"Liberation Serif", "DejaVu Serif", serif' font-size="22.8" font-weight="bold" text-anchor="end" fill="#000">40</text>
<rect x="114.1" y="708.2" width="13.2" height="4.6" fill="#000"/>
<text x="109.7" y="718.3" font-family='"Liberation Serif", "DejaVu Serif", serif' font-size="22.8" font-weight="bold" text-anchor="end" fill="#000">20</text>
<text x="109.7" y="762.2" font-family='"Liberation Serif", "DejaVu Serif", serif' font-size="22.8" font-weight="bold" text-anchor="end" fill="#000">6</text>
<rect x="114.1" y="781" width="13.2" height="4.6" fill="#000"/>
<text x="109.7" y="791.1" font-family='"Liberation Serif", "DejaVu Serif", serif' font-size="22.8" font-weight="bold" text-anchor="end" fill="#000">4</text>
<rect x="114.1" y="809.6" width="13.2" height="4.6" fill="#000"/>
<text x="109.7" y="819.7" font-family='"Liberation Serif", "DejaVu Serif", serif' font-size="22.8" font-weight="bold" text-anchor="end" fill="#000">2</text>
<rect x="114.1" y="838.7" width="13.2" height="4.6" fill="#000"/>
<text x="109.7" y="848.8" font-family='"Liberation Serif", "DejaVu Serif", serif' font-size="22.8" font-weight="bold" text-anchor="end" fill="#000">0</text>
<rect x="187.7" y="841" width="4.6" height="14.2" fill="#000"/>
<rect x="326.35" y="841" width="4.6" height="14.2" fill="#000"/>
<rect x="465" y="841" width="4.6" height="14.2" fill="#000"/>
<rect x="603.65" y="841" width="4.6" height="14.2" fill="#000"/>
<rect x="742.3" y="841" width="4.6" height="14.2" fill="#000"/>
<rect x="880.95" y="841" width="4.6" height="14.2" fill="#000"/>
<rect x="1019.6" y="841" width="4.6" height="14.2" fill="#000"/>
<rect x="1158.25" y="841" width="4.6" height="14.2" fill="#000"/>
<text transform="translate(198,876) rotate(-45)" font-family='"Liberation Serif", "DejaVu Serif", serif' font-size="23.5" font-weight="bold" text-anchor="end">pectinase(μg/h/mL)</text>
<text transform="translate(336.65,876) rotate(-45)" font-family='"Liberation Serif", "DejaVu Serif", serif' font-size="23.5" font-weight="bold" text-anchor="end">ACX(μg/min/mL)</text>
<text transform="translate(475.3,876) rotate(-45)" font-family='"Liberation Serif", "DejaVu Serif", serif' font-size="23.5" font-weight="bold" text-anchor="end">lipase(nmol/min/mL)</text>
<text transform="translate(613.95,876) rotate(-45)" font-family='"Liberation Serif", "DejaVu Serif", serif' font-size="23.5" font-weight="bold" text-anchor="end">carboxymethyl cellulase(μg/min/mL)</text>
<text transform="translate(752.6,876) rotate(-45)" font-family='"Liberation Serif", "DejaVu Serif", serif' font-size="23.5" font-weight="bold" text-anchor="end">α-amylase(μg/min/mL)</text>
<text transform="translate(891.25,876) rotate(-45)" font-family='"Liberation Serif", "DejaVu Serif", serif' font-size="23.5" font-weight="bold" text-anchor="end">protozoan protein(mg/mL)</text>
<text transform="translate(1029.9,876) rotate(-45)" font-family='"Liberation Serif", "DejaVu Serif", serif' font-size="23.5" font-weight="bold" text-anchor="end">bacterial protein(mg/mL)</text>
<text transform="translate(1168.55,876) rotate(-45)" font-family='"Liberation Serif", "DejaVu Serif", serif' font-size="23.5" font-weight="bold" text-anchor="end">microbial protein(mg/mL)</text>
<rect x="1062.7" y="545.2" width="32.5" height="13.2" fill="#000"/>
<rect x="1066.7" y="549.2" width="24.5" height="5.2" fill="#fff"/>
<line x1="1068.1" y1="549.2" x2="1068.1" y2="554.4" stroke="#000" stroke-width="2.8" stroke-dasharray="3.15 3.15" stroke-dashoffset="3.95"/>
<line x1="1071.07" y1="549.2" x2="1071.07" y2="554.4" stroke="#000" stroke-width="3.15" stroke-dasharray="3.15 3.15" stroke-dashoffset="0.8"/>
<line x1="1074.22" y1="549.2" x2="1074.22" y2="554.4" stroke="#000" stroke-width="3.15" stroke-dasharray="3.15 3.15" stroke-dashoffset="3.95"/>
<line x1="1077.38" y1="549.2" x2="1077.38" y2="554.4" stroke="#000" stroke-width="3.15" stroke-dasharray="3.15 3.15" stroke-dashoffset="0.8"/>
<line x1="1080.53" y1="549.2" x2="1080.53" y2="554.4" stroke="#000" stroke-width="3.15" stroke-dasharray="3.15 3.15" stroke-dashoffset="3.95"/>
<line x1="1083.67" y1="549.2" x2="1083.67" y2="554.4" stroke="#000" stroke-width="3.15" stroke-dasharray="3.15 3.15" stroke-dashoffset="0.8"/>
<line x1="1086.82" y1="549.2" x2="1086.82" y2="554.4" stroke="#000" stroke-width="3.15" stroke-dasharray="3.15 3.15" stroke-dashoffset="3.95"/>
<line x1="1089.8" y1="549.2" x2="1089.8" y2="554.4" stroke="#000" stroke-width="2.8" stroke-dasharray="3.15 3.15" stroke-dashoffset="0.8"/>
<text x="1114" y="559.7" font-family='"Liberation Serif", "DejaVu Serif", serif' font-size="23.5" font-weight="bold" text-anchor="start" fill="#000">Con</text>
<rect x="1062.7" y="573.7" width="32.5" height="13.2" fill="#000"/>
<rect x="1066.7" y="577.7" width="24.5" height="5.2" fill="#fff"/>
<line x1="1068.1" y1="577.7" x2="1068.1" y2="582.9" stroke="#000" stroke-width="2.8" stroke-dasharray="6.3 6.3" stroke-dashoffset="7.8"/>
<line x1="1072.65" y1="577.7" x2="1072.65" y2="582.9" stroke="#000" stroke-width="6.3" stroke-dasharray="6.3 6.3" stroke-dashoffset="1.5"/>
<line x1="1078.95" y1="577.7" x2="1078.95" y2="582.9" stroke="#000" stroke-width="6.3" stroke-dasharray="6.3 6.3" stroke-dashoffset="7.8"/>
<line x1="1085.25" y1="577.7" x2="1085.25" y2="582.9" stroke="#000" stroke-width="6.3" stroke-dasharray="6.3 6.3" stroke-dashoffset="1.5"/>
<line x1="1089.8" y1="577.7" x2="1089.8" y2="582.9" stroke="#000" stroke-width="2.8" stroke-dasharray="6.3 6.3" stroke-dashoffset="7.8"/>
<text x="1114.8" y="588.5" font-family='"Liberation Serif", "DejaVu Serif", serif' font-size="23.5" font-weight="bold" text-anchor="start" fill="#000" textLength="40.4" lengthAdjust="spacingAndGlyphs">TR1</text>
<rect x="1062.7" y="602.9" width="32.5" height="13.2" fill="#000"/>
<rect x="1066.7" y="606.9" width="24.5" height="5.2" fill="#fff"/>
<text x="1114.8" y="617.3" font-family='"Liberation Serif", "DejaVu Serif", serif' font-size="23.5" font-weight="bold" text-anchor="start" fill="#000" textLength="42" lengthAdjust="spacingAndGlyphs">TR2</text>
</g>
<g id="panelB">
<text x="1265" y="569.3" font-family='"Liberation Serif", "DejaVu Serif", serif' font-size="38" font-weight="normal" text-anchor="start" fill="#222">B</text>
<text x="1300.5" y="620.6" font-family='"Liberation Serif", "DejaVu Serif", serif' font-size="34" font-weight="bold" text-anchor="start" fill="#222" textLength="199" lengthAdjust="spacing">carbohydrate</text>
<text x="1320" y="740.5" font-family='"Liberation Serif", "DejaVu Serif", serif' font-size="34" font-weight="bold" text-anchor="start" fill="#222" textLength="132" lengthAdjust="spacing">pyruvate</text>
<text x="1564" y="740.5" font-family='"Liberation Serif", "DejaVu Serif", serif' font-size="34" font-weight="bold" text-anchor="start" fill="#222" textLength="162.5" lengthAdjust="spacing">acetyl-CoA</text>
<text x="1585.5" y="834.8" font-family='"Liberation Serif", "DejaVu Serif", serif' font-size="34" font-weight="bold" text-anchor="start" fill="#222" textLength="96" lengthAdjust="spacing">lactate</text>
<text x="1299" y="857.3" font-family='"Liberation Serif", "DejaVu Serif", serif' font-size="34" font-weight="bold" text-anchor="start" fill="#222" textLength="180.5" lengthAdjust="spacing">oxaloacetate</text>
<text x="1320.5" y="973.2" font-family='"Liberation Serif", "DejaVu Serif", serif' font-size="34" font-weight="bold" text-anchor="start" fill="#222" textLength="135.5" lengthAdjust="spacing">succinate</text>
<text x="1564" y="973.2" font-family='"Liberation Serif", "DejaVu Serif", serif' font-size="34" font-weight="bold" text-anchor="start" fill="#222" textLength="159" lengthAdjust="spacing">propionate</text>
<text x="1853" y="662.6" font-family='"Liberation Serif", "DejaVu Serif", serif' font-size="34" font-weight="bold" text-anchor="start" fill="#222" textLength="102.5" lengthAdjust="spacing">acetate</text>
<text x="1846" y="720.1" font-family='"Liberation Serif", "DejaVu Serif", serif' font-size="34" font-weight="bold" text-anchor="start" fill="#222" textLength="125" lengthAdjust="spacing">butyrate</text>
<text x="1846" y="776.4" font-family='"Liberation Serif", "DejaVu Serif", serif' font-size="34" font-weight="bold" text-anchor="start" fill="#222" textLength="126" lengthAdjust="spacing">caproate</text>
<text x="1849" y="833.5" font-family='"Liberation Serif", "DejaVu Serif", serif' font-size="34" font-weight="bold" text-anchor="start" fill="#222" textLength="117" lengthAdjust="spacing">valerate</text>
<rect x="1832" y="626.3" width="154.3" height="220.2" fill="none" stroke="#333" stroke-width="2"/>
<line x1="1388.4" y1="636.5" x2="1388.4" y2="697" stroke="#222" stroke-width="2.2"/>
<polygon points="1388.4,709 1379.4,688.5 1388.4,693.7 1397.4,688.5" fill="#222"/>
<line x1="1463" y1="733.3" x2="1539.4" y2="733.3" stroke="#222" stroke-width="2.2"/>
<polygon points="1551.4,733.3 1530.9,742.3 1536.1,733.3 1530.9,724.3" fill="#222"/>
<line x1="1738.2" y1="733.3" x2="1815" y2="733.3" stroke="#222" stroke-width="2.2"/>
<polygon points="1827,733.3 1806.5,742.3 1811.7,733.3 1806.5,724.3" fill="#222"/>
<line x1="1388.4" y1="753.3" x2="1388.4" y2="813.5" stroke="#222" stroke-width="2.2"/>
<polygon points="1388.4,825.5 1379.4,805 1388.4,810.2 1397.4,805" fill="#222"/>
<line x1="1430.5" y1="740.5" x2="1608.99" y2="803.79" stroke="#222" stroke-width="2.2"/>
<polygon points="1620.3,807.8 1597.97,809.43 1605.88,802.69 1603.99,792.47" fill="#222"/>
<line x1="1388.4" y1="870.2" x2="1388.4" y2="931" stroke="#222" stroke-width="2.2"/>
<polygon points="1388.4,943 1379.4,922.5 1388.4,927.7 1397.4,922.5" fill="#222"/>
<line x1="1634" y1="849.4" x2="1634" y2="931" stroke="#222" stroke-width="2.2"/>
<polygon points="1634,943 1625,922.5 1634,927.7 1643,922.5" fill="#222"/>
<line x1="1463" y1="965.3" x2="1539.6" y2="965.3" stroke="#222" stroke-width="2.2"/>
<polygon points="1551.6,965.3 1531.1,974.3 1536.3,965.3 1531.1,956.3" fill="#222"/>
</g>
</g>
<g opacity="0.3333"><use href="#all" x="-0.95" y="0"/></g><g opacity="0.25"><use href="#all" x="0.95" y="0"/></g></g>
<g opacity="0.3333"><use href="#hb" x="0" y="-0.95"/></g><g opacity="0.25"><use href="#hb" x="0" y="0.95"/></g>
</svg></body></html>
